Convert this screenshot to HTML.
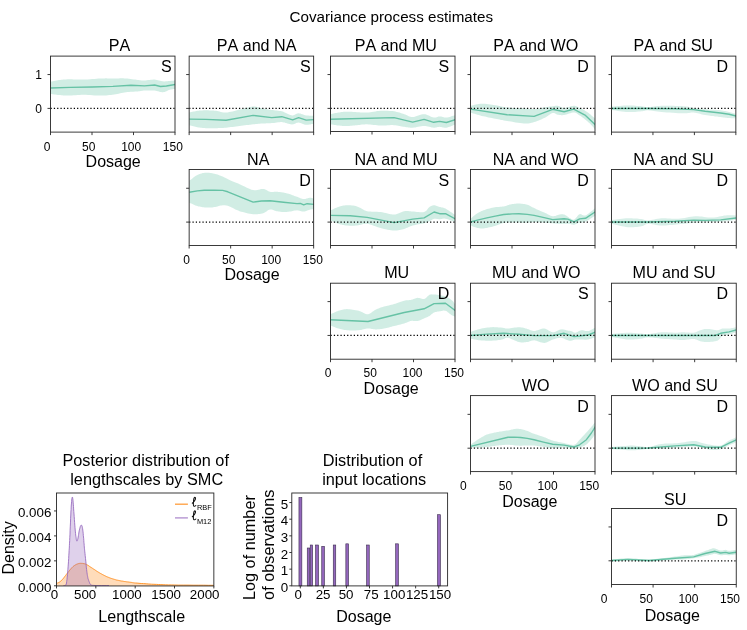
<!DOCTYPE html>
<html><head><meta charset="utf-8"><title>Covariance process estimates</title>
<style>html,body{margin:0;padding:0;background:#fff}svg{display:block;will-change:transform}text{font-family:"Liberation Sans",sans-serif;fill:#000;font-kerning:none}</style></head><body>
<svg width="747" height="630" viewBox="0 0 747 630">
<rect width="747" height="630" fill="#fff"/>
<text x="391.3" y="21.6" font-size="15.2" text-anchor="middle">Covariance process estimates</text>
<g><clipPath id="cp00"><rect x="50.5" y="56.1" width="124.5" height="76.0"/></clipPath>
<g clip-path="url(#cp00)">
<polygon points="50.5,81.6 51.7,81.4 52.9,81.2 54.2,81.0 55.4,80.7 56.6,80.5 57.8,80.3 59.0,80.1 60.1,80.0 61.2,79.8 62.2,79.7 63.1,79.6 64.0,79.5 64.9,79.4 66.0,79.4 67.2,79.3 68.6,79.3 70.1,79.3 71.8,79.3 73.7,79.4 75.6,79.5 77.6,79.6 79.7,79.6 81.7,79.6 83.7,79.6 85.8,79.5 87.9,79.4 90.1,79.2 92.3,79.0 94.5,78.9 96.6,78.7 98.6,78.5 100.6,78.4 102.5,78.4 104.3,78.4 106.0,78.3 107.7,78.4 109.3,78.4 110.9,78.4 112.5,78.4 114.1,78.4 115.7,78.4 117.2,78.4 118.6,78.4 120.1,78.3 121.6,78.3 123.0,78.3 124.4,78.4 125.9,78.4 127.4,78.6 129.0,78.7 130.6,78.9 132.1,79.2 133.7,79.4 135.1,79.6 136.5,79.8 137.7,80.0 138.8,80.1 139.7,80.2 140.5,80.3 141.2,80.4 141.9,80.4 142.7,80.4 143.5,80.5 144.5,80.5 145.6,80.4 146.8,80.3 148.1,80.1 149.4,80.0 150.8,79.8 152.1,79.7 153.4,79.6 154.6,79.6 155.7,79.7 156.8,79.9 157.9,80.2 159.0,80.4 160.0,80.7 161.1,81.0 162.1,81.2 163.0,81.3 163.9,81.4 164.8,81.4 165.7,81.3 166.5,81.3 167.4,81.2 168.2,81.1 169.0,81.0 169.8,81.0 170.5,80.9 171.3,80.8 172.0,80.8 172.8,80.7 173.5,80.7 174.2,80.6 174.9,80.5 175.7,80.5 175.7,88.9 174.9,89.0 174.2,89.1 173.5,89.1 172.8,89.2 172.0,89.3 171.3,89.4 170.5,89.5 169.8,89.7 169.0,90.0 168.2,90.3 167.4,90.7 166.5,91.2 165.7,91.6 164.8,91.9 163.9,92.1 163.0,92.3 162.1,92.2 161.1,92.1 160.0,91.9 159.0,91.6 157.9,91.3 156.8,91.0 155.7,90.7 154.6,90.6 153.4,90.5 152.1,90.4 150.8,90.4 149.4,90.4 148.1,90.4 146.8,90.5 145.6,90.5 144.5,90.6 143.5,90.6 142.7,90.7 141.9,90.8 141.2,90.9 140.5,91.1 139.7,91.2 138.8,91.3 137.7,91.4 136.5,91.5 135.1,91.6 133.7,91.7 132.1,91.8 130.6,91.8 129.0,92.0 127.4,92.1 125.9,92.3 124.4,92.5 123.0,92.7 121.6,93.0 120.1,93.3 118.6,93.7 117.2,93.9 115.7,94.2 114.1,94.5 112.5,94.7 110.9,94.9 109.3,95.1 107.7,95.2 106.0,95.4 104.3,95.5 102.5,95.6 100.6,95.6 98.6,95.6 96.6,95.5 94.5,95.4 92.3,95.2 90.1,95.1 87.9,94.9 85.8,94.8 83.7,94.8 81.7,94.8 79.7,94.9 77.6,95.0 75.6,95.2 73.7,95.3 71.8,95.5 70.1,95.6 68.6,95.6 67.2,95.6 66.0,95.6 64.9,95.6 64.0,95.5 63.1,95.4 62.2,95.3 61.2,95.2 60.1,95.1 59.0,95.0 57.8,94.9 56.6,94.7 55.4,94.6 54.2,94.4 52.9,94.3 51.7,94.1 50.5,94.0" fill="#66c2a5" fill-opacity="0.3"/>
<polyline points="50.5,88.0 70.2,87.4 92.2,87.0 112.9,86.4 131.0,85.3 144.5,85.9 154.6,85.0 160.5,86.5 166.4,86.0 175.7,84.3" fill="none" stroke="#66c2a5" stroke-width="1.4" stroke-linejoin="round"/>
<line x1="50.5" y1="108.4" x2="175.0" y2="108.4" stroke="#000" stroke-width="1.25" stroke-dasharray="1.25 2.07"/>
</g>
<rect x="50.5" y="56.1" width="124.50" height="76.00" fill="none" stroke="#262626" stroke-width="0.9"/>
<path d="M50.50,132.1v3.0M92.00,132.1v3.0M133.50,132.1v3.0M175.00,132.1v3.0M50.5,74.55h-3.0M50.5,108.40h-3.0" stroke="#262626" stroke-width="0.9" fill="none"/>
<text x="119.6" y="50.8" font-size="16.1" text-anchor="middle">PA</text>
<text x="171.7" y="72.1" font-size="16" text-anchor="end">S</text>
<text x="47.1" y="150.6" font-size="12" text-anchor="middle">0</text>
<text x="88.7" y="150.6" font-size="12" text-anchor="middle">50</text>
<text x="131.2" y="150.6" font-size="12" text-anchor="middle">100</text>
<text x="172.8" y="150.6" font-size="12" text-anchor="middle">150</text>
<text x="113.2" y="167.1" font-size="16" text-anchor="middle">Dosage</text>
<text x="42" y="79.0" font-size="12" text-anchor="end">1</text>
<text x="42" y="112.8" font-size="12" text-anchor="end">0</text>
</g>
<g><clipPath id="cp01"><rect x="189.15" y="56.1" width="124.5" height="76.0"/></clipPath>
<g clip-path="url(#cp01)">
<polygon points="189.3,112.5 190.3,112.3 191.4,112.1 192.4,111.8 193.4,111.6 194.4,111.4 195.4,111.2 196.4,111.0 197.4,110.8 198.5,110.7 199.5,110.6 200.5,110.5 201.5,110.4 202.6,110.4 203.6,110.3 204.7,110.3 205.9,110.3 207.1,110.3 208.3,110.3 209.5,110.4 210.8,110.4 212.1,110.5 213.4,110.6 214.7,110.7 216.0,110.8 217.2,111.0 218.4,111.3 219.6,111.6 220.8,111.9 222.1,112.2 223.3,112.4 224.7,112.5 226.1,112.5 227.6,112.4 229.2,112.1 230.9,111.8 232.6,111.4 234.4,110.9 236.1,110.5 237.9,110.0 239.6,109.6 241.3,109.2 243.1,108.8 244.8,108.3 246.6,107.8 248.3,107.4 250.0,107.0 251.6,106.7 253.1,106.6 254.5,106.6 255.9,106.8 257.2,107.0 258.5,107.3 259.7,107.7 260.9,108.0 262.1,108.4 263.2,108.6 264.3,108.8 265.4,109.0 266.4,109.2 267.4,109.3 268.4,109.5 269.5,109.7 270.5,109.8 271.7,110.0 272.9,110.1 274.1,110.3 275.5,110.4 276.8,110.6 278.1,110.7 279.4,110.9 280.7,111.1 281.8,111.3 282.8,111.6 283.8,112.0 284.7,112.4 285.5,112.8 286.3,113.2 287.1,113.6 287.8,113.9 288.5,114.2 289.2,114.4 289.7,114.7 290.2,114.9 290.7,115.1 291.1,115.2 291.6,115.3 292.1,115.4 292.7,115.4 293.4,115.2 294.1,115.0 294.8,114.7 295.5,114.3 296.2,114.0 297.0,113.6 297.8,113.4 298.6,113.3 299.5,113.4 300.4,113.6 301.3,113.9 302.3,114.2 303.2,114.5 304.2,114.9 305.2,115.2 306.2,115.4 307.2,115.5 308.3,115.6 309.3,115.7 310.4,115.7 311.5,115.8 312.5,115.8 313.6,115.8 314.7,115.9 314.7,123.5 313.6,123.7 312.5,123.9 311.5,124.1 310.4,124.4 309.3,124.6 308.3,124.7 307.2,124.8 306.2,124.8 305.2,124.7 304.2,124.4 303.2,124.1 302.3,123.7 301.3,123.3 300.4,123.0 299.5,122.7 298.6,122.6 297.8,122.7 297.0,122.8 296.2,123.1 295.5,123.4 294.8,123.7 294.1,124.0 293.4,124.2 292.7,124.3 292.1,124.4 291.6,124.4 291.1,124.3 290.7,124.3 290.2,124.2 289.7,124.1 289.2,123.9 288.5,123.8 287.8,123.6 287.1,123.4 286.3,123.1 285.5,122.9 284.7,122.6 283.8,122.4 282.8,122.2 281.8,122.1 280.7,122.1 279.4,122.2 278.1,122.3 276.8,122.5 275.5,122.7 274.1,122.9 272.9,123.0 271.7,123.1 270.5,123.2 269.5,123.3 268.4,123.3 267.4,123.3 266.4,123.3 265.4,123.4 264.3,123.4 263.2,123.5 262.1,123.5 260.9,123.6 259.7,123.7 258.5,123.8 257.2,123.9 255.9,124.0 254.5,124.2 253.1,124.3 251.6,124.5 250.0,124.7 248.3,124.9 246.6,125.1 244.8,125.3 243.1,125.6 241.3,125.8 239.6,126.0 237.9,126.2 236.1,126.4 234.4,126.7 232.6,126.9 230.9,127.1 229.2,127.3 227.6,127.5 226.1,127.7 224.7,127.8 223.3,127.9 222.1,128.0 220.8,128.0 219.6,128.1 218.4,128.1 217.2,128.2 216.0,128.2 214.7,128.2 213.4,128.3 212.1,128.3 210.8,128.3 209.5,128.3 208.3,128.3 207.1,128.2 205.9,128.2 204.7,128.1 203.6,128.0 202.6,127.9 201.5,127.8 200.5,127.7 199.5,127.5 198.5,127.4 197.4,127.2 196.4,127.0 195.4,126.7 194.4,126.5 193.4,126.2 192.4,126.0 191.4,125.7 190.3,125.4 189.3,125.2" fill="#66c2a5" fill-opacity="0.3"/>
<polyline points="189.3,119.1 205.9,119.4 226.1,120.3 253.1,115.4 271.7,117.6 281.8,116.7 292.7,119.8 298.6,117.7 306.2,120.1 314.7,119.6" fill="none" stroke="#66c2a5" stroke-width="1.4" stroke-linejoin="round"/>
<line x1="189.15" y1="108.4" x2="313.65" y2="108.4" stroke="#000" stroke-width="1.25" stroke-dasharray="1.25 2.07"/>
</g>
<rect x="189.15" y="56.1" width="124.50" height="76.00" fill="none" stroke="#262626" stroke-width="0.9"/>
<path d="M189.15,132.1v3.0M230.65,132.1v3.0M272.15,132.1v3.0M313.65,132.1v3.0M189.15,74.55h-3.0M189.15,108.40h-3.0" stroke="#262626" stroke-width="0.9" fill="none"/>
<text x="256.6" y="50.8" font-size="16.1" text-anchor="middle">PA and NA</text>
<text x="310.7" y="72.1" font-size="16" text-anchor="end">S</text>
</g>
<g><clipPath id="cp02"><rect x="330.5" y="56.1" width="124.5" height="76.0"/></clipPath>
<g clip-path="url(#cp02)">
<polygon points="330.5,114.2 331.5,114.0 332.5,113.8 333.5,113.5 334.4,113.3 335.4,113.1 336.4,112.9 337.4,112.7 338.4,112.5 339.5,112.4 340.5,112.2 341.5,112.1 342.5,111.9 343.6,111.8 344.6,111.8 345.7,111.7 346.9,111.7 348.1,111.7 349.3,111.7 350.5,111.8 351.8,111.8 353.1,111.9 354.4,112.0 355.7,112.1 357.0,112.2 358.2,112.2 359.4,112.3 360.6,112.4 361.8,112.5 363.1,112.5 364.3,112.6 365.7,112.6 367.1,112.5 368.6,112.4 370.2,112.2 371.9,111.9 373.6,111.7 375.4,111.4 377.1,111.1 378.9,110.9 380.6,110.8 382.3,110.8 384.1,110.7 385.8,110.7 387.6,110.8 389.3,110.9 391.0,111.0 392.6,111.1 394.1,111.3 395.5,111.6 396.9,111.9 398.2,112.2 399.5,112.6 400.7,113.0 401.9,113.4 403.1,113.8 404.2,114.2 405.3,114.6 406.4,115.0 407.4,115.5 408.3,116.0 409.3,116.4 410.4,116.7 411.5,117.0 412.7,117.1 414.0,116.9 415.3,116.6 416.8,116.1 418.3,115.6 419.8,115.1 421.3,114.6 422.8,114.3 424.1,114.2 425.4,114.3 426.7,114.7 428.0,115.2 429.3,115.8 430.5,116.4 431.6,116.9 432.7,117.3 433.7,117.6 434.6,117.6 435.5,117.5 436.2,117.4 436.9,117.1 437.5,116.9 438.2,116.6 438.9,116.5 439.6,116.4 440.4,116.4 441.2,116.6 442.0,116.8 442.8,117.1 443.6,117.3 444.5,117.5 445.4,117.6 446.4,117.6 447.4,117.4 448.5,117.2 449.7,116.9 450.9,116.5 452.1,116.1 453.3,115.8 454.5,115.4 455.7,115.0 455.7,124.3 454.5,124.8 453.3,125.3 452.1,125.8 450.9,126.3 449.7,126.7 448.5,127.1 447.4,127.5 446.4,127.7 445.4,127.8 444.5,127.7 443.6,127.6 442.8,127.4 442.0,127.2 441.2,127.0 440.4,126.9 439.6,126.8 438.9,126.9 438.2,127.0 437.5,127.1 436.9,127.3 436.2,127.5 435.5,127.6 434.6,127.7 433.7,127.7 432.7,127.6 431.6,127.4 430.5,127.1 429.3,126.8 428.0,126.5 426.7,126.2 425.4,126.1 424.1,126.0 422.8,126.1 421.3,126.2 419.8,126.5 418.3,126.8 416.8,127.1 415.3,127.4 414.0,127.6 412.7,127.7 411.5,127.7 410.4,127.7 409.3,127.6 408.3,127.5 407.4,127.3 406.4,127.2 405.3,127.0 404.2,126.8 403.1,126.7 401.9,126.4 400.7,126.2 399.5,125.9 398.2,125.7 396.9,125.5 395.5,125.3 394.1,125.2 392.6,125.1 391.0,125.1 389.3,125.2 387.6,125.3 385.8,125.4 384.1,125.5 382.3,125.5 380.6,125.5 378.9,125.4 377.1,125.3 375.4,125.1 373.6,124.9 371.9,124.7 370.2,124.5 368.6,124.4 367.1,124.3 365.7,124.3 364.3,124.4 363.1,124.5 361.8,124.6 360.6,124.8 359.4,124.9 358.2,125.0 357.0,125.2 355.7,125.3 354.4,125.4 353.1,125.5 351.8,125.7 350.5,125.8 349.3,125.9 348.1,126.0 346.9,126.0 345.7,126.0 344.6,126.0 343.6,125.9 342.5,125.9 341.5,125.8 340.5,125.7 339.5,125.6 338.4,125.5 337.4,125.4 336.4,125.2 335.4,125.1 334.4,124.9 333.5,124.8 332.5,124.6 331.5,124.5 330.5,124.3" fill="#66c2a5" fill-opacity="0.3"/>
<polyline points="330.5,119.3 394.1,117.6 412.7,122.1 424.1,119.4 433.7,122.3 439.6,121.4 446.4,122.5 455.7,119.6" fill="none" stroke="#66c2a5" stroke-width="1.4" stroke-linejoin="round"/>
<line x1="330.5" y1="108.4" x2="455.0" y2="108.4" stroke="#000" stroke-width="1.25" stroke-dasharray="1.25 2.07"/>
</g>
<rect x="330.5" y="56.1" width="124.50" height="75.40" fill="none" stroke="#262626" stroke-width="0.9"/>
<path d="M330.50,131.5v3.0M372.00,131.5v3.0M413.50,131.5v3.0M455.00,131.5v3.0M330.5,74.55h-3.0M330.5,108.40h-3.0" stroke="#262626" stroke-width="0.9" fill="none"/>
<text x="395.8" y="50.8" font-size="16.1" text-anchor="middle">PA and MU</text>
<text x="449.2" y="72.1" font-size="16" text-anchor="end">S</text>
</g>
<g><clipPath id="cp03"><rect x="470.5" y="56.1" width="124.5" height="76.0"/></clipPath>
<g clip-path="url(#cp03)">
<polygon points="470.5,105.8 471.9,105.5 473.3,105.2 474.6,104.8 476.0,104.5 477.4,104.2 478.8,104.0 480.3,103.8 481.8,103.7 483.4,103.8 485.1,103.8 486.8,104.0 488.5,104.2 490.3,104.5 492.0,104.7 493.7,105.0 495.3,105.3 496.8,105.5 498.3,105.8 499.6,106.1 501.0,106.4 502.4,106.7 503.8,107.0 505.4,107.2 507.1,107.4 509.0,107.6 511.1,107.8 513.4,107.9 515.6,108.0 517.9,108.0 520.1,108.1 522.2,108.2 524.0,108.3 525.6,108.4 527.0,108.6 528.3,108.7 529.5,108.9 530.6,109.0 531.7,109.1 532.9,109.1 534.1,109.1 535.4,109.0 536.7,108.9 538.0,108.7 539.3,108.4 540.5,108.2 541.8,107.9 543.0,107.6 544.2,107.4 545.4,107.3 546.5,107.1 547.7,106.9 548.7,106.8 549.8,106.6 550.8,106.5 551.8,106.4 552.7,106.3 553.4,106.2 554.1,106.0 554.7,105.9 555.3,105.8 555.9,105.7 556.4,105.7 557.0,105.7 557.7,105.8 558.4,105.9 559.1,106.2 559.9,106.6 560.6,107.0 561.4,107.3 562.3,107.6 563.2,107.9 564.1,108.0 565.2,107.9 566.4,107.6 567.7,107.3 569.0,106.9 570.3,106.5 571.5,106.1 572.7,105.9 573.7,105.8 574.7,105.8 575.5,106.0 576.2,106.2 576.9,106.5 577.6,106.9 578.2,107.2 578.9,107.6 579.6,108.0 580.4,108.3 581.1,108.6 581.9,109.0 582.6,109.3 583.3,109.7 584.1,110.1 584.8,110.5 585.5,111.0 586.3,111.5 587.1,112.0 587.8,112.6 588.6,113.1 589.4,113.7 590.1,114.3 590.8,114.8 591.4,115.4 592.1,115.9 592.6,116.4 593.2,116.9 593.7,117.3 594.2,117.8 594.6,118.3 595.1,118.8 595.7,119.3 595.7,130.2 595.1,129.6 594.6,129.0 594.2,128.3 593.7,127.7 593.2,127.1 592.6,126.4 592.1,125.8 591.4,125.2 590.8,124.5 590.1,123.8 589.4,123.1 588.6,122.4 587.8,121.7 587.1,121.0 586.3,120.4 585.5,119.8 584.8,119.2 584.1,118.6 583.3,118.0 582.6,117.4 581.9,116.9 581.1,116.3 580.4,115.8 579.6,115.4 578.9,114.9 578.2,114.4 577.6,113.9 576.9,113.5 576.2,113.1 575.5,112.8 574.7,112.6 573.7,112.5 572.7,112.6 571.5,112.8 570.3,113.2 569.0,113.6 567.7,114.1 566.4,114.5 565.2,114.8 564.1,115.0 563.2,115.1 562.3,115.2 561.4,115.2 560.6,115.1 559.9,115.1 559.1,114.9 558.4,114.8 557.7,114.7 557.0,114.5 556.4,114.2 555.9,113.9 555.3,113.5 554.7,113.2 554.1,113.0 553.4,112.9 552.7,113.0 551.8,113.3 550.8,113.8 549.8,114.5 548.7,115.2 547.7,116.0 546.5,116.7 545.4,117.4 544.2,118.1 543.0,118.6 541.8,119.2 540.5,119.8 539.3,120.3 538.0,120.8 536.7,121.3 535.4,121.8 534.1,122.1 532.9,122.4 531.7,122.7 530.6,123.0 529.5,123.2 528.3,123.4 527.0,123.5 525.6,123.5 524.0,123.5 522.2,123.3 520.1,123.1 517.9,122.8 515.6,122.4 513.4,122.0 511.1,121.6 509.0,121.3 507.1,120.9 505.4,120.7 503.8,120.4 502.4,120.1 501.0,119.9 499.6,119.6 498.3,119.3 496.8,119.1 495.3,118.7 493.7,118.4 492.0,118.1 490.3,117.7 488.5,117.4 486.8,117.0 485.1,116.6 483.4,116.3 481.8,115.9 480.3,115.5 478.8,115.1 477.4,114.7 476.0,114.2 474.6,113.8 473.3,113.4 471.9,112.9 470.5,112.5" fill="#66c2a5" fill-opacity="0.3"/>
<polyline points="470.5,109.1 507.1,114.7 534.1,116.4 552.7,109.3 564.1,111.7 573.7,109.1 585.5,115.4 595.7,125.2" fill="none" stroke="#66c2a5" stroke-width="1.4" stroke-linejoin="round"/>
<line x1="470.5" y1="108.4" x2="595.0" y2="108.4" stroke="#000" stroke-width="1.25" stroke-dasharray="1.25 2.07"/>
</g>
<rect x="470.5" y="56.1" width="124.50" height="76.00" fill="none" stroke="#262626" stroke-width="0.9"/>
<path d="M470.50,132.1v3.0M512.00,132.1v3.0M553.50,132.1v3.0M595.00,132.1v3.0M470.5,74.55h-3.0M470.5,108.40h-3.0" stroke="#262626" stroke-width="0.9" fill="none"/>
<text x="535.7" y="50.8" font-size="16.1" text-anchor="middle">PA and WO</text>
<text x="588.7" y="72.1" font-size="16" text-anchor="end">D</text>
</g>
<g><clipPath id="cp04"><rect x="611.5" y="56.1" width="124.5" height="76.0"/></clipPath>
<g clip-path="url(#cp04)">
<polygon points="611.5,106.6 613.6,106.4 615.7,106.3 617.8,106.1 619.9,105.9 621.9,105.7 624.0,105.6 626.0,105.5 627.9,105.4 629.7,105.4 631.6,105.5 633.4,105.6 635.2,105.7 636.9,105.9 638.5,106.0 640.0,106.1 641.4,106.3 642.5,106.4 643.4,106.5 644.1,106.7 644.7,106.8 645.4,107.0 646.1,107.1 647.0,107.1 648.1,107.1 649.4,107.0 650.8,106.9 652.3,106.7 653.9,106.5 655.6,106.2 657.5,106.0 659.5,105.9 661.6,105.8 664.0,105.7 666.8,105.7 669.7,105.8 672.8,105.8 675.8,105.9 678.7,106.0 681.3,106.1 683.5,106.3 685.4,106.4 686.9,106.6 688.1,106.8 689.2,107.1 690.3,107.3 691.3,107.5 692.4,107.8 693.7,108.0 695.0,108.1 696.3,108.3 697.7,108.4 699.0,108.6 700.5,108.7 701.9,108.8 703.5,109.0 705.1,109.1 706.9,109.3 708.9,109.4 711.0,109.6 713.1,109.7 715.2,109.8 717.2,110.0 719.0,110.1 720.6,110.3 722.0,110.5 723.3,110.7 724.4,110.9 725.4,111.1 726.3,111.3 727.2,111.5 728.1,111.8 729.1,112.0 730.1,112.2 731.0,112.5 732.0,112.8 732.9,113.1 733.9,113.3 734.8,113.6 735.7,113.9 736.7,114.2 736.7,118.4 735.7,118.4 734.8,118.3 733.9,118.3 732.9,118.3 732.0,118.2 731.0,118.2 730.1,118.1 729.1,118.1 728.1,118.0 727.2,117.9 726.3,117.8 725.4,117.7 724.4,117.5 723.3,117.4 722.0,117.2 720.6,117.1 719.0,116.9 717.2,116.6 715.2,116.4 713.1,116.1 711.0,115.9 708.9,115.6 706.9,115.3 705.1,115.0 703.5,114.7 701.9,114.4 700.5,114.0 699.0,113.6 697.7,113.2 696.3,112.9 695.0,112.7 693.7,112.5 692.4,112.5 691.3,112.5 690.3,112.7 689.2,112.9 688.1,113.0 686.9,113.2 685.4,113.3 683.5,113.3 681.3,113.3 678.7,113.2 675.8,113.0 672.8,112.8 669.7,112.6 666.8,112.4 664.0,112.2 661.6,112.0 659.5,111.8 657.5,111.5 655.6,111.3 653.9,111.0 652.3,110.8 650.8,110.6 649.4,110.4 648.1,110.3 647.0,110.3 646.1,110.4 645.4,110.5 644.7,110.7 644.1,110.9 643.4,111.0 642.5,111.2 641.4,111.3 640.0,111.4 638.5,111.6 636.9,111.7 635.2,111.9 633.4,112.0 631.6,112.0 629.7,112.0 627.9,112.0 626.0,111.9 624.0,111.7 621.9,111.4 619.9,111.2 617.8,110.9 615.7,110.5 613.6,110.2 611.5,110.0" fill="#66c2a5" fill-opacity="0.26"/>
<polyline points="611.5,108.5 648.1,108.5 675.1,108.8 693.7,109.6 705.1,111.3 720.6,113.0 729.1,114.2 736.7,116.2" fill="none" stroke="#66c2a5" stroke-width="1.4" stroke-linejoin="round"/>
<line x1="611.5" y1="108.4" x2="735.85" y2="108.4" stroke="#000" stroke-width="1.25" stroke-dasharray="1.25 2.07"/>
</g>
<rect x="611.5" y="56.1" width="124.35" height="76.00" fill="none" stroke="#262626" stroke-width="0.9"/>
<path d="M611.50,132.1v3.0M652.95,132.1v3.0M694.40,132.1v3.0M735.85,132.1v3.0M611.5,74.55h-3.0M611.5,108.40h-3.0" stroke="#262626" stroke-width="0.9" fill="none"/>
<text x="673.2" y="50.8" font-size="16.1" text-anchor="middle">PA and SU</text>
<text x="728.1" y="72.1" font-size="16" text-anchor="end">D</text>
</g>
<g><clipPath id="cp11"><rect x="189.15" y="169.5" width="124.5" height="76.0"/></clipPath>
<g clip-path="url(#cp11)">
<polygon points="189.3,180.8 190.3,180.0 191.4,179.2 192.4,178.4 193.4,177.6 194.4,176.8 195.4,176.1 196.4,175.5 197.4,174.9 198.5,174.4 199.5,174.0 200.6,173.7 201.6,173.4 202.7,173.1 203.8,172.9 204.8,172.8 205.9,172.7 206.9,172.7 208.0,172.7 209.0,172.8 210.1,172.9 211.1,173.1 212.2,173.3 213.2,173.5 214.3,173.7 215.4,174.0 216.4,174.3 217.5,174.6 218.6,175.0 219.7,175.4 220.7,175.8 221.8,176.2 222.7,176.6 223.6,177.0 224.5,177.4 225.2,177.8 226.0,178.2 226.8,178.6 227.6,179.0 228.5,179.5 229.5,180.0 230.6,180.4 231.7,180.9 232.9,181.4 234.1,181.9 235.4,182.4 236.8,183.0 238.2,183.6 239.6,184.2 241.2,184.9 242.8,185.7 244.6,186.6 246.3,187.5 248.1,188.3 249.9,189.1 251.5,189.7 253.1,190.1 254.5,190.2 255.9,190.2 257.3,190.0 258.6,189.7 259.8,189.4 261.0,189.1 262.1,188.9 263.2,188.9 264.2,189.1 265.1,189.4 266.0,189.8 266.8,190.3 267.6,190.7 268.4,191.2 269.1,191.5 270.0,191.8 270.8,191.9 271.7,192.0 272.5,191.9 273.3,191.9 274.2,191.8 275.0,191.8 275.9,191.8 276.7,191.8 277.6,191.8 278.4,191.9 279.2,192.0 280.1,192.1 280.9,192.2 281.8,192.3 282.6,192.5 283.5,192.6 284.3,192.8 285.1,193.0 286.0,193.1 286.8,193.4 287.7,193.6 288.5,193.8 289.4,194.0 290.2,194.3 291.0,194.6 291.9,194.9 292.7,195.2 293.6,195.5 294.4,195.9 295.3,196.2 296.1,196.5 297.0,196.8 297.8,197.1 298.6,197.5 299.5,197.8 300.3,198.2 301.2,198.5 302.0,198.7 302.9,198.9 303.7,199.0 304.6,199.0 305.4,198.9 306.3,198.6 307.2,198.4 308.1,198.1 308.9,197.9 309.7,197.7 310.4,197.7 311.1,197.7 311.7,197.9 312.2,198.1 312.7,198.3 313.2,198.6 313.7,198.9 314.2,199.1 314.7,199.4 314.7,209.1 314.2,209.2 313.7,209.2 313.2,209.2 312.7,209.2 312.2,209.2 311.7,209.3 311.1,209.4 310.4,209.5 309.7,209.7 308.9,209.9 308.1,210.3 307.2,210.6 306.3,210.9 305.4,211.2 304.6,211.4 303.7,211.5 302.9,211.5 302.0,211.4 301.2,211.2 300.3,211.0 299.5,210.7 298.6,210.5 297.8,210.4 297.0,210.3 296.1,210.4 295.3,210.5 294.4,210.6 293.6,210.8 292.7,211.0 291.9,211.2 291.0,211.4 290.2,211.5 289.4,211.6 288.5,211.7 287.7,211.8 286.8,211.9 286.0,212.0 285.1,212.0 284.3,212.0 283.5,212.0 282.6,212.0 281.8,211.9 280.9,211.8 280.1,211.7 279.2,211.6 278.4,211.5 277.6,211.3 276.7,211.2 275.9,211.0 275.0,210.7 274.2,210.4 273.3,210.0 272.5,209.8 271.7,209.5 270.8,209.4 270.0,209.5 269.1,209.7 268.4,210.1 267.6,210.6 266.8,211.2 266.0,211.8 265.1,212.3 264.2,212.8 263.2,213.2 262.1,213.5 261.0,213.7 259.8,213.9 258.6,214.1 257.3,214.2 255.9,214.3 254.5,214.3 253.1,214.2 251.5,214.0 249.9,213.8 248.1,213.4 246.3,213.0 244.6,212.6 242.8,212.1 241.2,211.7 239.6,211.2 238.2,210.6 236.8,210.0 235.4,209.4 234.1,208.7 232.9,208.0 231.7,207.4 230.6,206.9 229.5,206.4 228.5,206.1 227.6,205.8 226.8,205.6 226.0,205.4 225.2,205.3 224.5,205.3 223.6,205.2 222.7,205.3 221.8,205.4 220.7,205.6 219.7,205.8 218.6,206.1 217.5,206.4 216.4,206.7 215.4,206.9 214.3,207.1 213.2,207.2 212.2,207.4 211.1,207.4 210.1,207.5 209.0,207.5 208.0,207.5 206.9,207.5 205.9,207.5 204.8,207.4 203.8,207.3 202.7,207.2 201.6,207.0 200.6,206.8 199.5,206.6 198.5,206.4 197.4,206.1 196.4,205.8 195.4,205.4 194.4,205.0 193.4,204.5 192.4,204.1 191.4,203.6 190.3,203.2 189.3,202.7" fill="#66c2a5" fill-opacity="0.3"/>
<polyline points="189.3,192.3 197.4,190.9 204.2,190.3 214.3,190.3 222.7,190.4 227.8,191.8 253.1,202.1 261.5,201.0 270.0,200.7 283.5,202.2 297.0,203.6 300.3,203.4 303.7,204.9 307.1,203.7 314.7,204.4" fill="none" stroke="#66c2a5" stroke-width="1.4" stroke-linejoin="round"/>
<line x1="189.15" y1="222.1" x2="313.65" y2="222.1" stroke="#000" stroke-width="1.25" stroke-dasharray="1.25 2.07"/>
</g>
<rect x="189.15" y="169.5" width="124.50" height="76.00" fill="none" stroke="#262626" stroke-width="0.9"/>
<path d="M189.15,245.5v3.0M230.65,245.5v3.0M272.15,245.5v3.0M313.65,245.5v3.0M189.15,188.25h-3.0M189.15,222.10h-3.0" stroke="#262626" stroke-width="0.9" fill="none"/>
<text x="258.3" y="164.8" font-size="16.1" text-anchor="middle">NA</text>
<text x="310.7" y="185.8" font-size="16" text-anchor="end">D</text>
<text x="186.7" y="264.0" font-size="12" text-anchor="middle">0</text>
<text x="228.7" y="264.0" font-size="12" text-anchor="middle">50</text>
<text x="271.2" y="264.0" font-size="12" text-anchor="middle">100</text>
<text x="312.8" y="264.0" font-size="12" text-anchor="middle">150</text>
<text x="252.1" y="280.1" font-size="16" text-anchor="middle">Dosage</text>
</g>
<g><clipPath id="cp12"><rect x="330.5" y="169.5" width="124.5" height="76.0"/></clipPath>
<g clip-path="url(#cp12)">
<polygon points="330.5,210.3 331.5,209.9 332.5,209.4 333.5,209.0 334.4,208.5 335.4,208.1 336.4,207.7 337.4,207.3 338.4,207.0 339.5,206.6 340.5,206.3 341.5,206.1 342.5,205.8 343.6,205.6 344.6,205.4 345.7,205.3 346.9,205.3 348.1,205.3 349.3,205.3 350.5,205.3 351.8,205.5 353.1,205.6 354.4,205.8 355.7,206.1 357.0,206.4 358.2,206.9 359.4,207.5 360.6,208.1 361.8,208.8 363.1,209.5 364.3,210.2 365.7,210.7 367.1,211.2 368.6,211.4 370.2,211.6 371.9,211.7 373.6,211.7 375.4,211.7 377.1,211.8 378.9,211.9 380.6,212.0 382.3,212.3 384.1,212.7 385.8,213.1 387.6,213.5 389.3,214.0 391.0,214.3 392.6,214.5 394.1,214.5 395.5,214.4 396.9,214.0 398.2,213.5 399.5,213.0 400.7,212.4 401.9,211.9 403.1,211.5 404.2,211.2 405.3,211.0 406.4,211.0 407.4,211.0 408.3,211.1 409.3,211.2 410.4,211.3 411.5,211.4 412.7,211.5 414.0,211.6 415.4,211.8 417.0,211.9 418.6,212.1 420.1,212.2 421.6,212.3 423.0,212.2 424.1,212.0 425.1,211.6 425.9,211.1 426.6,210.4 427.3,209.6 427.8,208.8 428.4,208.1 428.9,207.5 429.5,207.0 430.1,206.6 430.7,206.2 431.2,205.9 431.8,205.7 432.3,205.5 432.9,205.4 433.5,205.3 434.1,205.3 434.7,205.3 435.4,205.4 436.1,205.7 436.8,205.9 437.5,206.2 438.2,206.5 438.9,206.7 439.6,207.0 440.3,207.1 441.0,207.3 441.6,207.4 442.3,207.5 443.0,207.6 443.8,207.9 444.6,208.2 445.5,208.6 446.6,209.2 447.8,210.0 449.0,210.8 450.3,211.7 451.7,212.6 453.0,213.6 454.4,214.5 455.7,215.4 455.7,222.1 454.4,221.7 453.0,221.2 451.7,220.7 450.3,220.2 449.0,219.7 447.8,219.3 446.6,219.0 445.5,218.8 444.6,218.6 443.8,218.6 443.0,218.7 442.3,218.8 441.6,219.0 441.0,219.1 440.3,219.2 439.6,219.3 438.9,219.2 438.2,219.1 437.5,219.0 436.8,218.9 436.1,218.8 435.4,218.7 434.7,218.7 434.1,218.8 433.5,218.9 432.9,219.2 432.3,219.5 431.8,219.9 431.2,220.2 430.7,220.6 430.1,221.0 429.5,221.3 428.9,221.6 428.4,221.8 427.8,222.1 427.3,222.3 426.6,222.6 425.9,222.8 425.1,223.1 424.1,223.3 423.0,223.6 421.6,223.8 420.1,224.1 418.6,224.3 417.0,224.6 415.4,224.9 414.0,225.2 412.7,225.5 411.5,225.9 410.4,226.3 409.3,226.8 408.3,227.2 407.4,227.7 406.4,228.1 405.3,228.5 404.2,228.9 403.1,229.2 401.9,229.5 400.7,229.8 399.5,230.1 398.2,230.3 396.9,230.5 395.5,230.6 394.1,230.6 392.6,230.5 391.0,230.3 389.3,230.0 387.6,229.7 385.8,229.3 384.1,228.9 382.3,228.5 380.6,228.0 378.9,227.5 377.1,227.0 375.4,226.3 373.6,225.7 371.9,225.0 370.2,224.5 368.6,224.1 367.1,223.8 365.7,223.8 364.3,223.9 363.1,224.1 361.8,224.4 360.6,224.7 359.4,225.1 358.2,225.3 357.0,225.5 355.7,225.6 354.4,225.7 353.1,225.7 351.8,225.7 350.5,225.7 349.3,225.7 348.1,225.6 346.9,225.5 345.7,225.4 344.6,225.2 343.6,225.1 342.5,224.9 341.5,224.6 340.5,224.4 339.5,224.1 338.4,223.8 337.4,223.5 336.4,223.1 335.4,222.7 334.4,222.2 333.5,221.8 332.5,221.3 331.5,220.9 330.5,220.4" fill="#66c2a5" fill-opacity="0.3"/>
<polyline points="330.5,215.4 350.2,215.7 367.1,217.4 394.1,222.6 412.7,219.1 424.1,217.9 434.1,212.0 439.6,213.7 445.5,213.7 455.7,219.1" fill="none" stroke="#66c2a5" stroke-width="1.4" stroke-linejoin="round"/>
<line x1="330.5" y1="222.1" x2="455.0" y2="222.1" stroke="#000" stroke-width="1.25" stroke-dasharray="1.25 2.07"/>
</g>
<rect x="330.5" y="169.5" width="124.50" height="76.00" fill="none" stroke="#262626" stroke-width="0.9"/>
<path d="M330.50,245.5v3.0M372.00,245.5v3.0M413.50,245.5v3.0M455.00,245.5v3.0M330.5,188.25h-3.0M330.5,222.10h-3.0" stroke="#262626" stroke-width="0.9" fill="none"/>
<text x="396.0" y="164.8" font-size="16.1" text-anchor="middle">NA and MU</text>
<text x="449.2" y="185.8" font-size="16" text-anchor="end">S</text>
</g>
<g><clipPath id="cp13"><rect x="470.5" y="169.5" width="124.5" height="76.0"/></clipPath>
<g clip-path="url(#cp13)">
<polygon points="470.5,218.8 471.3,218.1 472.1,217.5 472.8,216.8 473.6,216.1 474.4,215.5 475.2,214.8 475.9,214.3 476.7,213.7 477.5,213.2 478.3,212.7 479.1,212.3 479.9,211.9 480.7,211.5 481.6,211.1 482.5,210.7 483.5,210.3 484.6,209.9 485.8,209.5 487.0,209.1 488.3,208.7 489.7,208.4 491.0,208.0 492.3,207.7 493.6,207.5 494.9,207.2 496.2,207.1 497.6,207.0 498.9,206.9 500.2,206.8 501.4,206.7 502.6,206.6 503.7,206.4 504.7,206.2 505.6,206.0 506.4,205.7 507.2,205.4 508.0,205.1 508.8,204.9 509.6,204.6 510.5,204.4 511.5,204.2 512.5,204.1 513.5,203.9 514.6,203.8 515.7,203.7 516.8,203.6 517.8,203.6 518.9,203.6 520.0,203.6 521.1,203.7 522.2,203.8 523.2,203.9 524.3,204.1 525.4,204.3 526.4,204.5 527.3,204.8 528.3,205.1 529.1,205.4 529.9,205.8 530.6,206.2 531.4,206.7 532.2,207.2 533.1,207.6 534.1,208.1 535.2,208.6 536.4,209.2 537.7,209.7 539.1,210.3 540.4,210.9 541.7,211.4 543.0,212.0 544.2,212.5 545.4,213.1 546.5,213.6 547.6,214.2 548.6,214.8 549.7,215.3 550.7,215.7 551.7,216.0 552.7,216.2 553.6,216.3 554.5,216.1 555.4,215.9 556.3,215.6 557.1,215.3 557.9,215.0 558.7,214.7 559.4,214.5 560.1,214.4 560.7,214.3 561.3,214.3 561.8,214.2 562.4,214.2 562.9,214.3 563.5,214.4 564.1,214.5 564.8,214.8 565.4,215.2 566.1,215.6 566.8,216.1 567.5,216.6 568.2,217.1 568.9,217.6 569.5,217.9 570.1,218.3 570.7,218.6 571.2,219.0 571.8,219.3 572.3,219.6 572.9,219.7 573.5,219.7 574.1,219.6 574.7,219.2 575.4,218.6 576.1,217.8 576.8,216.9 577.5,216.1 578.2,215.3 578.9,214.6 579.6,214.2 580.3,214.1 581.0,214.2 581.6,214.6 582.3,214.9 583.0,215.3 583.8,215.6 584.6,215.6 585.5,215.4 586.6,214.9 587.8,214.1 589.0,213.2 590.3,212.1 591.7,211.0 593.0,209.9 594.4,208.8 595.7,207.8 595.7,215.4 594.4,216.2 593.0,217.1 591.7,218.0 590.3,218.8 589.0,219.7 587.8,220.4 586.6,221.1 585.5,221.6 584.6,222.0 583.8,222.2 583.0,222.3 582.3,222.4 581.6,222.4 581.0,222.4 580.3,222.5 579.6,222.6 578.9,222.9 578.2,223.1 577.5,223.4 576.8,223.8 576.1,224.1 575.4,224.3 574.7,224.5 574.1,224.7 573.5,224.7 572.9,224.6 572.3,224.5 571.8,224.4 571.2,224.2 570.7,224.0 570.1,223.9 569.5,223.8 568.9,223.8 568.2,223.8 567.5,223.8 566.8,223.8 566.1,223.8 565.4,223.8 564.8,223.8 564.1,223.8 563.5,223.8 562.9,223.8 562.4,223.8 561.8,223.9 561.3,223.9 560.7,223.9 560.1,223.8 559.4,223.8 558.7,223.8 557.9,223.7 557.1,223.7 556.3,223.6 555.4,223.5 554.5,223.5 553.6,223.4 552.7,223.3 551.7,223.2 550.7,223.2 549.7,223.1 548.6,223.0 547.6,222.9 546.5,222.8 545.4,222.7 544.2,222.6 543.0,222.6 541.7,222.5 540.4,222.4 539.1,222.3 537.7,222.2 536.4,222.2 535.2,222.1 534.1,222.1 533.1,222.2 532.2,222.2 531.4,222.3 530.6,222.4 529.9,222.4 529.1,222.5 528.3,222.6 527.3,222.6 526.4,222.7 525.4,222.7 524.3,222.7 523.2,222.7 522.2,222.7 521.1,222.7 520.0,222.6 518.9,222.6 517.8,222.6 516.8,222.6 515.7,222.6 514.6,222.6 513.5,222.6 512.5,222.6 511.5,222.6 510.5,222.6 509.6,222.6 508.8,222.6 508.0,222.6 507.2,222.6 506.4,222.6 505.6,222.7 504.7,222.8 503.7,223.0 502.6,223.3 501.4,223.6 500.2,224.1 498.9,224.6 497.6,225.0 496.2,225.5 494.9,226.0 493.6,226.3 492.3,226.7 491.0,227.0 489.7,227.3 488.3,227.6 487.0,227.9 485.8,228.1 484.6,228.3 483.5,228.4 482.5,228.4 481.6,228.4 480.7,228.4 479.9,228.3 479.1,228.2 478.3,228.0 477.5,227.9 476.7,227.7 475.9,227.5 475.2,227.3 474.4,227.0 473.6,226.7 472.8,226.4 472.1,226.1 471.3,225.8 470.5,225.5" fill="#66c2a5" fill-opacity="0.3"/>
<polyline points="470.5,222.0 478.4,219.9 486.9,217.9 495.3,216.1 503.7,214.5 512.2,213.9 518.9,213.7 527.3,214.4 534.1,215.4 544.2,217.6 552.7,219.6 564.1,218.8 567.8,219.1 574.1,221.8 579.6,218.9 585.5,218.3 595.7,211.5" fill="none" stroke="#66c2a5" stroke-width="1.4" stroke-linejoin="round"/>
<line x1="470.5" y1="222.1" x2="595.0" y2="222.1" stroke="#000" stroke-width="1.25" stroke-dasharray="1.25 2.07"/>
</g>
<rect x="470.5" y="169.5" width="124.50" height="76.00" fill="none" stroke="#262626" stroke-width="0.9"/>
<path d="M470.50,245.5v3.0M512.00,245.5v3.0M553.50,245.5v3.0M595.00,245.5v3.0M470.5,188.25h-3.0M470.5,222.10h-3.0" stroke="#262626" stroke-width="0.9" fill="none"/>
<text x="535.7" y="164.8" font-size="16.1" text-anchor="middle">NA and WO</text>
<text x="588.7" y="185.8" font-size="16" text-anchor="end">D</text>
</g>
<g><clipPath id="cp14"><rect x="611.5" y="169.5" width="124.5" height="76.0"/></clipPath>
<g clip-path="url(#cp14)">
<polygon points="611.5,219.9 613.6,219.7 615.7,219.5 617.8,219.2 619.9,218.9 621.9,218.7 624.0,218.5 626.0,218.3 627.9,218.3 629.7,218.2 631.6,218.3 633.4,218.4 635.2,218.5 636.9,218.6 638.5,218.8 640.0,218.9 641.4,219.1 642.5,219.3 643.4,219.5 644.1,219.7 644.7,220.0 645.4,220.2 646.1,220.3 647.0,220.4 648.1,220.4 649.4,220.3 650.9,220.1 652.5,219.8 654.2,219.4 656.0,219.0 657.8,218.7 659.7,218.4 661.6,218.3 663.5,218.2 665.6,218.3 667.7,218.4 669.8,218.5 672.0,218.7 674.2,218.8 676.3,218.8 678.5,218.8 680.6,218.6 682.7,218.2 684.8,217.9 686.9,217.4 689.0,217.0 691.1,216.7 693.2,216.4 695.3,216.2 697.5,216.2 699.6,216.4 701.8,216.6 704.0,216.9 706.1,217.2 708.2,217.4 710.3,217.6 712.2,217.6 714.1,217.5 715.9,217.2 717.6,216.9 719.3,216.6 721.0,216.2 722.6,215.9 724.2,215.6 725.7,215.4 727.2,215.3 728.6,215.2 730.0,215.2 731.3,215.2 732.7,215.3 734.0,215.3 735.3,215.4 736.7,215.4 736.7,219.6 735.3,219.8 734.0,220.0 732.7,220.3 731.3,220.5 730.0,220.7 728.6,220.9 727.2,221.1 725.7,221.3 724.2,221.4 722.6,221.6 721.0,221.7 719.3,221.8 717.6,221.9 715.9,222.0 714.1,222.0 712.2,222.1 710.3,222.2 708.2,222.3 706.1,222.3 704.0,222.3 701.8,222.4 699.6,222.4 697.5,222.5 695.3,222.6 693.2,222.8 691.1,223.0 689.0,223.2 686.9,223.4 684.8,223.7 682.7,223.9 680.6,224.1 678.5,224.3 676.3,224.5 674.2,224.7 672.0,224.9 669.8,225.1 667.7,225.3 665.6,225.4 663.5,225.5 661.6,225.5 659.7,225.4 657.8,225.2 656.0,224.9 654.2,224.6 652.5,224.3 650.9,224.0 649.4,223.8 648.1,223.8 647.0,223.9 646.1,224.2 645.4,224.5 644.7,224.9 644.1,225.3 643.4,225.7 642.5,226.1 641.4,226.3 640.0,226.6 638.5,226.8 636.9,227.0 635.2,227.1 633.4,227.3 631.6,227.3 629.7,227.3 627.9,227.2 626.0,227.0 624.0,226.6 621.9,226.2 619.9,225.8 617.8,225.3 615.7,224.8 613.6,224.3 611.5,223.8" fill="#66c2a5" fill-opacity="0.26"/>
<polyline points="611.5,222.0 648.1,222.0 675.1,221.3 693.7,220.1 705.1,220.4 720.6,219.9 736.7,217.9" fill="none" stroke="#66c2a5" stroke-width="1.4" stroke-linejoin="round"/>
<line x1="611.5" y1="222.1" x2="736.25" y2="222.1" stroke="#000" stroke-width="1.25" stroke-dasharray="1.25 2.07"/>
</g>
<rect x="611.5" y="169.5" width="124.75" height="76.00" fill="none" stroke="#262626" stroke-width="0.9"/>
<path d="M611.50,245.5v3.0M653.08,245.5v3.0M694.67,245.5v3.0M736.25,245.5v3.0M611.5,188.25h-3.0M611.5,222.10h-3.0" stroke="#262626" stroke-width="0.9" fill="none"/>
<text x="673.5" y="164.8" font-size="16.1" text-anchor="middle">NA and SU</text>
<text x="728.1" y="185.8" font-size="16" text-anchor="end">D</text>
</g>
<g><clipPath id="cp22"><rect x="330.5" y="283.2" width="124.5" height="76.0"/></clipPath>
<g clip-path="url(#cp22)">
<polygon points="330.5,314.2 331.5,313.8 332.5,313.3 333.5,312.9 334.4,312.4 335.4,312.0 336.4,311.6 337.4,311.2 338.4,310.8 339.4,310.5 340.4,310.2 341.4,309.9 342.4,309.7 343.4,309.5 344.5,309.3 345.6,309.2 346.9,309.1 348.2,309.2 349.6,309.3 351.2,309.5 352.7,309.7 354.3,309.9 355.8,310.2 357.3,310.5 358.7,310.8 360.0,311.2 361.2,311.7 362.4,312.3 363.6,312.9 364.7,313.4 365.8,313.9 366.9,314.2 368.0,314.2 369.0,314.0 369.9,313.6 370.9,313.0 371.8,312.3 372.7,311.6 373.6,310.9 374.6,310.2 375.5,309.7 376.5,309.2 377.6,308.8 378.6,308.4 379.6,308.0 380.7,307.6 381.7,307.3 382.8,307.0 384.0,306.6 385.2,306.3 386.4,306.0 387.6,305.7 388.9,305.4 390.2,305.1 391.5,304.8 392.8,304.4 394.1,304.1 395.4,303.7 396.7,303.2 398.0,302.8 399.4,302.3 400.7,301.8 401.9,301.4 403.1,301.0 404.2,300.7 405.2,300.5 406.1,300.3 407.0,300.3 407.8,300.2 408.6,300.2 409.4,300.1 410.1,300.0 411.0,299.9 411.8,299.6 412.7,299.4 413.5,299.1 414.4,298.7 415.2,298.4 416.0,298.2 416.9,298.0 417.7,297.8 418.5,297.9 419.4,298.0 420.2,298.3 421.0,298.6 421.8,298.8 422.6,299.0 423.4,299.1 424.1,299.0 424.8,298.7 425.6,298.3 426.3,297.7 426.9,297.0 427.6,296.3 428.3,295.7 428.9,295.2 429.5,294.8 430.1,294.6 430.7,294.4 431.2,294.4 431.8,294.3 432.3,294.4 432.9,294.4 433.5,294.4 434.1,294.5 434.7,294.5 435.4,294.6 436.1,294.6 436.8,294.7 437.5,294.8 438.2,294.9 438.9,295.0 439.6,295.1 440.4,295.3 441.1,295.4 441.8,295.5 442.6,295.7 443.3,295.8 444.1,296.0 444.8,296.2 445.5,296.5 446.3,296.8 447.1,297.2 447.8,297.5 448.6,297.9 449.4,298.4 450.1,298.9 450.8,299.4 451.4,299.9 452.1,300.4 452.6,301.0 453.2,301.6 453.7,302.3 454.2,303.0 454.6,303.6 455.1,304.3 455.7,304.9 455.7,316.7 455.1,316.5 454.6,316.4 454.2,316.2 453.7,316.0 453.2,315.9 452.6,315.6 452.1,315.4 451.4,315.0 450.8,314.6 450.1,314.1 449.4,313.4 448.6,312.8 447.8,312.2 447.1,311.6 446.3,311.1 445.5,310.8 444.8,310.7 444.1,310.6 443.3,310.6 442.6,310.7 441.8,310.9 441.1,311.1 440.4,311.2 439.6,311.3 438.9,311.4 438.2,311.5 437.5,311.6 436.8,311.7 436.1,311.9 435.4,312.1 434.7,312.3 434.1,312.5 433.5,312.8 432.9,313.2 432.3,313.7 431.8,314.1 431.2,314.6 430.7,315.1 430.1,315.5 429.5,315.9 428.9,316.2 428.3,316.6 427.6,316.9 426.9,317.2 426.3,317.5 425.6,317.8 424.8,318.1 424.1,318.4 423.4,318.8 422.6,319.1 421.8,319.5 421.0,319.8 420.2,320.2 419.4,320.5 418.5,320.8 417.7,321.0 416.9,321.1 416.0,321.1 415.2,321.0 414.4,321.0 413.5,320.9 412.7,320.8 411.8,320.8 411.0,321.0 410.1,321.1 409.4,321.4 408.6,321.7 407.8,322.1 407.0,322.4 406.1,322.8 405.2,323.1 404.2,323.5 403.1,323.8 401.9,324.1 400.7,324.4 399.4,324.7 398.0,325.1 396.7,325.4 395.4,325.7 394.1,326.0 392.8,326.3 391.5,326.7 390.2,327.0 388.9,327.4 387.6,327.7 386.4,328.0 385.2,328.3 384.0,328.5 382.8,328.7 381.7,328.9 380.7,329.1 379.6,329.2 378.6,329.3 377.6,329.3 376.5,329.4 375.5,329.4 374.6,329.3 373.6,329.2 372.7,329.1 371.8,328.9 370.9,328.7 369.9,328.6 369.0,328.5 368.0,328.5 366.9,328.6 365.8,328.8 364.7,329.1 363.6,329.3 362.4,329.6 361.2,329.9 360.0,330.1 358.7,330.2 357.3,330.3 355.8,330.4 354.3,330.4 352.7,330.4 351.2,330.4 349.6,330.4 348.2,330.3 346.9,330.2 345.6,330.1 344.5,330.0 343.4,329.8 342.4,329.6 341.4,329.3 340.4,329.1 339.4,328.8 338.4,328.5 337.4,328.2 336.4,327.9 335.4,327.5 334.4,327.1 333.5,326.7 332.5,326.3 331.5,325.9 330.5,325.5" fill="#66c2a5" fill-opacity="0.3"/>
<polyline points="330.5,319.8 368.0,321.5 404.2,312.5 424.1,308.8 434.1,303.6 445.5,303.2 455.7,310.8" fill="none" stroke="#66c2a5" stroke-width="1.4" stroke-linejoin="round"/>
<line x1="330.5" y1="335.45" x2="455.0" y2="335.45" stroke="#000" stroke-width="1.25" stroke-dasharray="1.25 2.07"/>
</g>
<rect x="330.5" y="283.2" width="124.50" height="76.00" fill="none" stroke="#262626" stroke-width="0.9"/>
<path d="M330.50,359.2v3.0M372.00,359.2v3.0M413.50,359.2v3.0M455.00,359.2v3.0M330.5,301.60h-3.0M330.5,335.45h-3.0" stroke="#262626" stroke-width="0.9" fill="none"/>
<text x="396.7" y="278.0" font-size="16.1" text-anchor="middle">MU</text>
<text x="449.2" y="298.8" font-size="16" text-anchor="end">D</text>
<text x="328.2" y="377.4" font-size="12" text-anchor="middle">0</text>
<text x="370.2" y="377.4" font-size="12" text-anchor="middle">50</text>
<text x="412.5" y="377.4" font-size="12" text-anchor="middle">100</text>
<text x="454.0" y="377.4" font-size="12" text-anchor="middle">150</text>
<text x="391.2" y="393.7" font-size="16" text-anchor="middle">Dosage</text>
</g>
<g><clipPath id="cp23"><rect x="470.5" y="283.2" width="124.5" height="76.0"/></clipPath>
<g clip-path="url(#cp23)">
<polygon points="470.5,331.9 471.7,331.5 472.9,331.1 474.0,330.7 475.2,330.3 476.4,329.9 477.6,329.5 478.8,329.2 480.1,328.9 481.5,328.6 483.0,328.3 484.5,328.1 486.0,327.8 487.5,327.6 489.0,327.4 490.5,327.3 491.9,327.2 493.3,327.1 494.7,327.2 496.0,327.2 497.4,327.3 498.6,327.4 499.9,327.5 501.0,327.6 502.0,327.7 503.0,327.8 503.7,327.9 504.3,328.1 504.9,328.2 505.6,328.4 506.2,328.5 507.0,328.5 508.0,328.5 509.1,328.5 510.4,328.3 511.8,328.1 513.3,327.8 514.8,327.6 516.2,327.4 517.6,327.2 518.9,327.2 520.1,327.3 521.2,327.4 522.3,327.6 523.4,327.8 524.4,328.1 525.4,328.4 526.4,328.6 527.3,328.9 528.3,329.2 529.1,329.5 529.9,329.9 530.6,330.2 531.4,330.6 532.2,330.8 533.1,331.0 534.1,331.1 535.2,330.9 536.4,330.6 537.7,330.2 539.1,329.7 540.4,329.2 541.7,328.8 543.0,328.6 544.2,328.5 545.4,328.8 546.4,329.2 547.5,329.8 548.5,330.4 549.6,331.1 550.6,331.6 551.6,332.1 552.7,332.3 553.7,332.2 554.8,331.9 555.9,331.5 557.0,331.0 558.0,330.5 559.1,330.0 560.1,329.6 561.1,329.4 562.0,329.3 563.0,329.4 563.9,329.6 564.8,329.8 565.6,330.0 566.4,330.2 567.2,330.4 567.8,330.6 568.4,330.7 568.9,330.7 569.3,330.8 569.7,330.8 570.0,330.8 570.4,330.9 570.8,331.0 571.2,331.1 571.7,331.3 572.2,331.5 572.7,331.8 573.2,332.1 573.7,332.4 574.2,332.6 574.8,332.7 575.4,332.8 576.1,332.6 576.8,332.3 577.5,332.0 578.2,331.5 579.0,331.1 579.8,330.7 580.5,330.4 581.3,330.2 582.1,330.2 582.9,330.3 583.8,330.5 584.6,330.7 585.4,330.9 586.3,331.1 587.2,331.1 588.1,331.1 589.0,330.9 589.9,330.5 590.9,330.1 591.8,329.6 592.8,329.1 593.7,328.6 594.7,328.1 595.7,327.7 595.7,337.0 594.7,337.3 593.7,337.7 592.8,338.0 591.8,338.4 590.9,338.7 589.9,339.1 589.0,339.3 588.1,339.5 587.2,339.6 586.3,339.7 585.4,339.7 584.6,339.7 583.8,339.6 582.9,339.6 582.1,339.5 581.3,339.5 580.5,339.5 579.8,339.5 579.0,339.5 578.2,339.4 577.5,339.4 576.8,339.4 576.1,339.4 575.4,339.5 574.8,339.6 574.2,339.8 573.7,339.9 573.2,340.1 572.7,340.3 572.2,340.5 571.7,340.6 571.2,340.7 570.8,340.7 570.4,340.8 570.0,340.8 569.7,340.8 569.3,340.7 568.9,340.6 568.4,340.5 567.8,340.3 567.2,340.1 566.4,339.8 565.6,339.4 564.8,339.0 563.9,338.6 563.0,338.2 562.0,337.9 561.1,337.8 560.1,337.8 559.1,337.9 558.0,338.1 557.0,338.3 555.9,338.6 554.8,338.9 553.7,339.2 552.7,339.5 551.6,339.9 550.6,340.4 549.6,340.9 548.5,341.5 547.5,342.0 546.4,342.4 545.4,342.7 544.2,342.9 543.0,342.8 541.7,342.6 540.4,342.2 539.1,341.7 537.7,341.2 536.4,340.8 535.2,340.5 534.1,340.3 533.1,340.4 532.2,340.5 531.4,340.7 530.6,341.0 529.9,341.3 529.1,341.6 528.3,341.9 527.3,342.0 526.4,342.1 525.4,342.3 524.4,342.3 523.4,342.4 522.3,342.4 521.2,342.4 520.1,342.2 518.9,342.0 517.6,341.7 516.2,341.1 514.8,340.5 513.3,339.8 511.8,339.2 510.4,338.6 509.1,338.1 508.0,337.8 507.0,337.8 506.2,337.8 505.6,338.0 504.9,338.3 504.3,338.7 503.7,339.0 503.0,339.3 502.0,339.5 501.0,339.7 499.9,339.9 498.6,340.1 497.4,340.2 496.0,340.4 494.7,340.5 493.3,340.6 491.9,340.7 490.5,340.7 489.0,340.7 487.5,340.7 486.0,340.7 484.5,340.6 483.0,340.6 481.5,340.5 480.1,340.3 478.8,340.2 477.6,340.0 476.4,339.8 475.2,339.6 474.0,339.4 472.9,339.1 471.7,338.9 470.5,338.7" fill="#66c2a5" fill-opacity="0.3"/>
<polyline points="470.5,335.5 486.9,334.1 503.7,333.3 518.9,334.3 534.1,335.6 552.7,335.6 564.1,333.3 574.1,336.6 588.1,335.0 595.7,331.9" fill="none" stroke="#66c2a5" stroke-width="1.4" stroke-linejoin="round"/>
<line x1="470.5" y1="335.45" x2="595.0" y2="335.45" stroke="#000" stroke-width="1.25" stroke-dasharray="1.25 2.07"/>
</g>
<rect x="470.5" y="283.2" width="124.50" height="76.00" fill="none" stroke="#262626" stroke-width="0.9"/>
<path d="M470.50,359.2v3.0M512.00,359.2v3.0M553.50,359.2v3.0M595.00,359.2v3.0M470.5,301.60h-3.0M470.5,335.45h-3.0" stroke="#262626" stroke-width="0.9" fill="none"/>
<text x="536.2" y="278.0" font-size="16.1" text-anchor="middle">MU and WO</text>
<text x="588.7" y="298.8" font-size="16" text-anchor="end">S</text>
</g>
<g><clipPath id="cp24"><rect x="611.5" y="283.2" width="124.5" height="76.0"/></clipPath>
<g clip-path="url(#cp24)">
<polygon points="611.5,333.9 613.6,333.8 615.7,333.6 617.8,333.4 619.9,333.2 621.9,333.1 624.0,332.9 626.0,332.8 627.9,332.8 629.7,332.8 631.6,332.8 633.4,332.9 635.2,333.1 636.9,333.2 638.5,333.4 640.0,333.5 641.4,333.6 642.5,333.7 643.4,333.8 644.1,333.9 644.7,334.0 645.4,334.1 646.1,334.2 647.0,334.2 648.1,334.1 649.5,334.0 651.0,333.8 652.7,333.5 654.4,333.2 656.2,332.9 658.1,332.6 659.9,332.4 661.6,332.3 663.3,332.2 665.1,332.2 666.9,332.3 668.7,332.4 670.4,332.5 672.1,332.6 673.7,332.7 675.1,332.8 676.4,332.7 677.5,332.7 678.6,332.6 679.5,332.5 680.5,332.4 681.4,332.3 682.4,332.3 683.5,332.3 684.7,332.3 686.0,332.4 687.4,332.5 688.7,332.6 690.0,332.7 691.3,332.8 692.5,332.8 693.7,332.8 694.7,332.6 695.6,332.3 696.4,332.0 697.2,331.6 698.0,331.2 698.8,330.8 699.6,330.5 700.4,330.2 701.2,330.0 702.0,329.7 702.8,329.5 703.6,329.3 704.4,329.1 705.2,329.0 706.1,328.9 707.1,328.9 708.3,328.9 709.6,329.1 710.9,329.3 712.3,329.6 713.7,329.8 715.0,330.0 716.2,330.2 717.3,330.2 718.1,330.2 718.8,330.0 719.5,329.7 720.0,329.5 720.5,329.2 721.1,328.9 721.6,328.7 722.3,328.5 723.1,328.5 723.9,328.5 724.7,328.5 725.5,328.5 726.4,328.6 727.3,328.6 728.2,328.6 729.1,328.5 730.0,328.4 730.9,328.3 731.9,328.1 732.8,328.0 733.8,327.8 734.7,327.6 735.7,327.4 736.7,327.2 736.7,332.3 735.7,332.5 734.7,332.8 733.8,333.1 732.8,333.4 731.9,333.7 730.9,333.9 730.0,334.2 729.1,334.4 728.2,334.7 727.3,334.8 726.4,335.0 725.5,335.1 724.7,335.3 723.9,335.5 723.1,335.8 722.3,336.1 721.6,336.6 721.1,337.1 720.5,337.8 720.0,338.4 719.5,339.1 718.8,339.7 718.1,340.3 717.3,340.7 716.2,341.0 715.0,341.3 713.7,341.5 712.3,341.7 710.9,341.8 709.6,341.9 708.3,342.0 707.1,342.0 706.1,342.0 705.2,342.0 704.4,341.9 703.6,341.8 702.8,341.7 702.0,341.5 701.2,341.4 700.4,341.2 699.6,341.0 698.8,340.7 698.0,340.3 697.2,340.0 696.4,339.6 695.6,339.4 694.7,339.1 693.7,339.0 692.5,339.0 691.3,339.1 690.0,339.2 688.7,339.4 687.4,339.6 686.0,339.8 684.7,339.9 683.5,340.0 682.4,340.0 681.4,340.0 680.5,339.9 679.5,339.9 678.6,339.8 677.5,339.7 676.4,339.6 675.1,339.5 673.7,339.4 672.1,339.3 670.4,339.2 668.7,339.1 666.9,339.0 665.1,338.9 663.3,338.8 661.6,338.7 659.9,338.5 658.1,338.3 656.2,338.1 654.4,337.9 652.7,337.6 651.0,337.5 649.5,337.4 648.1,337.3 647.0,337.4 646.1,337.5 645.4,337.6 644.7,337.9 644.1,338.1 643.4,338.3 642.5,338.5 641.4,338.7 640.0,338.8 638.5,339.0 636.9,339.2 635.2,339.3 633.4,339.5 631.6,339.5 629.7,339.6 627.9,339.5 626.0,339.4 624.0,339.1 621.9,338.8 619.9,338.5 617.8,338.1 615.7,337.7 613.6,337.3 611.5,337.0" fill="#66c2a5" fill-opacity="0.26"/>
<polyline points="611.5,335.5 715.1,335.5 720.6,333.3 729.1,331.9 736.7,329.9" fill="none" stroke="#66c2a5" stroke-width="1.4" stroke-linejoin="round"/>
<line x1="611.5" y1="335.45" x2="736.25" y2="335.45" stroke="#000" stroke-width="1.25" stroke-dasharray="1.25 2.07"/>
</g>
<rect x="611.5" y="283.2" width="124.75" height="76.00" fill="none" stroke="#262626" stroke-width="0.9"/>
<path d="M611.50,359.2v3.0M653.08,359.2v3.0M694.67,359.2v3.0M736.25,359.2v3.0M611.5,301.60h-3.0M611.5,335.45h-3.0" stroke="#262626" stroke-width="0.9" fill="none"/>
<text x="674.1" y="278.0" font-size="16.1" text-anchor="middle">MU and SU</text>
<text x="728.1" y="298.8" font-size="16" text-anchor="end">D</text>
</g>
<g><clipPath id="cp33"><rect x="470.5" y="395.6" width="124.5" height="76.0"/></clipPath>
<g clip-path="url(#cp33)">
<polygon points="470.5,444.8 471.5,444.1 472.5,443.3 473.5,442.6 474.4,441.9 475.4,441.2 476.4,440.5 477.4,439.8 478.4,439.2 479.5,438.6 480.5,437.9 481.5,437.3 482.5,436.7 483.6,436.2 484.6,435.6 485.7,435.1 486.9,434.6 488.0,434.2 489.3,433.8 490.5,433.5 491.8,433.2 493.1,432.9 494.4,432.6 495.7,432.4 497.0,432.1 498.3,431.9 499.7,431.6 501.1,431.4 502.5,431.2 503.9,431.0 505.3,430.8 506.7,430.6 508.0,430.4 509.2,430.2 510.4,429.9 511.6,429.6 512.7,429.4 513.9,429.1 515.0,428.9 516.1,428.8 517.2,428.7 518.3,428.8 519.4,428.9 520.5,429.0 521.5,429.3 522.5,429.5 523.6,429.8 524.6,430.1 525.7,430.4 526.7,430.8 527.7,431.1 528.8,431.6 529.8,432.0 530.8,432.5 531.9,432.9 533.0,433.4 534.1,433.8 535.3,434.2 536.5,434.6 537.8,435.1 539.2,435.5 540.5,435.9 541.8,436.3 543.0,436.7 544.2,437.2 545.3,437.6 546.4,438.0 547.4,438.5 548.3,438.9 549.3,439.3 550.4,439.8 551.5,440.2 552.7,440.5 553.9,440.9 555.3,441.3 556.8,441.6 558.3,441.9 559.8,442.2 561.3,442.5 562.7,442.8 564.1,443.1 565.5,443.4 566.8,443.7 568.2,444.1 569.5,444.4 570.7,444.7 571.9,444.8 573.0,444.9 574.1,444.8 575.0,444.5 575.7,444.0 576.4,443.5 577.1,442.8 577.7,442.1 578.3,441.3 578.9,440.5 579.6,439.7 580.4,438.9 581.3,438.0 582.2,437.1 583.0,436.1 583.9,435.2 584.8,434.2 585.6,433.3 586.4,432.4 587.1,431.7 587.8,430.9 588.4,430.2 589.1,429.4 589.7,428.7 590.3,428.1 590.9,427.4 591.4,426.7 592.0,426.0 592.6,425.4 593.1,424.8 593.6,424.1 594.1,423.5 594.6,422.9 595.1,422.3 595.7,421.7 595.7,433.8 595.1,434.5 594.6,435.1 594.1,435.8 593.6,436.5 593.1,437.2 592.6,437.9 592.0,438.5 591.4,439.2 590.9,439.9 590.3,440.6 589.7,441.3 589.1,441.9 588.4,442.6 587.8,443.3 587.1,443.9 586.4,444.4 585.6,444.9 584.8,445.4 583.9,445.9 583.0,446.3 582.2,446.7 581.3,447.0 580.4,447.3 579.6,447.6 578.9,447.9 578.3,448.1 577.7,448.3 577.1,448.4 576.4,448.5 575.7,448.6 575.0,448.6 574.1,448.6 573.0,448.6 571.9,448.5 570.7,448.3 569.5,448.2 568.2,448.0 566.8,447.8 565.5,447.7 564.1,447.6 562.7,447.6 561.3,447.7 559.8,447.8 558.3,447.9 556.8,448.0 555.3,448.1 553.9,448.1 552.7,448.1 551.5,448.1 550.4,448.0 549.3,447.8 548.3,447.7 547.4,447.5 546.4,447.3 545.3,447.1 544.2,447.0 543.0,446.8 541.8,446.6 540.5,446.4 539.2,446.2 537.8,446.0 536.5,445.8 535.3,445.7 534.1,445.6 533.0,445.5 531.9,445.5 530.8,445.5 529.8,445.5 528.8,445.5 527.7,445.6 526.7,445.6 525.7,445.6 524.6,445.6 523.6,445.6 522.5,445.6 521.5,445.7 520.5,445.7 519.4,445.7 518.3,445.6 517.2,445.6 516.1,445.5 515.0,445.4 513.9,445.3 512.7,445.1 511.6,445.0 510.4,444.9 509.2,444.8 508.0,444.8 506.7,444.8 505.3,444.8 503.9,444.9 502.5,445.0 501.1,445.2 499.7,445.3 498.3,445.5 497.0,445.6 495.7,445.8 494.4,445.9 493.1,446.1 491.8,446.3 490.5,446.5 489.3,446.7 488.0,446.8 486.9,447.0 485.7,447.1 484.6,447.2 483.6,447.3 482.5,447.4 481.5,447.5 480.5,447.5 479.5,447.6 478.4,447.6 477.4,447.7 476.4,447.7 475.4,447.7 474.4,447.7 473.5,447.7 472.5,447.6 471.5,447.6 470.5,447.6" fill="#66c2a5" fill-opacity="0.3"/>
<polyline points="470.5,446.4 508.0,437.2 514.2,437.1 520.6,437.5 527.3,438.4 534.1,439.7 543.4,442.1 552.7,444.3 564.1,445.1 574.1,447.0 579.6,444.8 586.4,439.7 591.4,433.0 595.7,426.2" fill="none" stroke="#66c2a5" stroke-width="1.4" stroke-linejoin="round"/>
<line x1="470.5" y1="448.2" x2="595.0" y2="448.2" stroke="#000" stroke-width="1.25" stroke-dasharray="1.25 2.07"/>
</g>
<rect x="470.5" y="395.6" width="124.50" height="76.00" fill="none" stroke="#262626" stroke-width="0.9"/>
<path d="M470.50,471.6v3.0M512.00,471.6v3.0M553.50,471.6v3.0M595.00,471.6v3.0M470.5,414.35h-3.0M470.5,448.20h-3.0" stroke="#262626" stroke-width="0.9" fill="none"/>
<text x="535.7" y="391.2" font-size="16.1" text-anchor="middle">WO</text>
<text x="588.7" y="412.4" font-size="16" text-anchor="end">D</text>
<text x="463.3" y="490.0" font-size="12" text-anchor="middle">0</text>
<text x="505.4" y="490.0" font-size="12" text-anchor="middle">50</text>
<text x="547.6" y="490.0" font-size="12" text-anchor="middle">100</text>
<text x="589.2" y="490.0" font-size="12" text-anchor="middle">150</text>
<text x="529.8" y="507.1" font-size="16" text-anchor="middle">Dosage</text>
</g>
<g><clipPath id="cp34"><rect x="611.5" y="395.6" width="124.5" height="76.0"/></clipPath>
<g clip-path="url(#cp34)">
<polygon points="611.5,447.0 614.2,446.8 617.0,446.6 619.8,446.3 622.6,446.1 625.4,445.9 628.0,445.8 630.5,445.6 632.9,445.6 635.1,445.7 637.2,445.9 639.2,446.1 641.0,446.4 642.8,446.6 644.6,446.9 646.3,447.0 648.1,447.0 649.9,446.8 651.5,446.4 653.1,446.0 654.8,445.6 656.4,445.1 658.0,444.6 659.8,444.2 661.6,443.9 663.6,443.7 665.6,443.6 667.8,443.5 669.9,443.4 672.1,443.4 674.3,443.3 676.4,443.2 678.5,443.1 680.5,442.8 682.5,442.5 684.6,442.2 686.6,441.8 688.5,441.4 690.4,441.2 692.1,441.0 693.7,440.9 695.0,440.9 696.2,441.1 697.3,441.4 698.3,441.7 699.2,442.1 700.1,442.5 701.1,442.8 702.1,443.1 703.1,443.3 704.2,443.5 705.2,443.8 706.2,444.0 707.2,444.2 708.3,444.4 709.4,444.6 710.5,444.8 711.7,444.9 713.0,445.2 714.3,445.4 715.6,445.6 716.9,445.8 718.2,445.8 719.4,445.8 720.6,445.6 721.8,445.2 722.9,444.7 724.0,444.1 725.0,443.3 726.0,442.6 727.1,441.8 728.1,441.1 729.1,440.5 730.1,440.0 731.0,439.6 732.0,439.2 732.9,438.8 733.9,438.4 734.8,438.0 735.7,437.6 736.7,437.2 736.7,442.2 735.7,442.6 734.8,443.0 733.9,443.3 732.9,443.7 732.0,444.1 731.0,444.4 730.1,444.8 729.1,445.3 728.1,445.7 727.1,446.3 726.0,446.9 725.0,447.4 724.0,448.0 722.9,448.5 721.8,449.0 720.6,449.3 719.4,449.6 718.2,449.8 716.9,449.9 715.6,450.0 714.3,450.0 713.0,450.0 711.7,449.9 710.5,449.8 709.4,449.7 708.3,449.4 707.2,449.2 706.2,448.8 705.2,448.5 704.2,448.2 703.1,447.9 702.1,447.6 701.1,447.4 700.1,447.2 699.2,447.0 698.3,446.8 697.3,446.7 696.2,446.6 695.0,446.5 693.7,446.4 692.1,446.5 690.4,446.6 688.5,446.7 686.6,446.9 684.6,447.1 682.5,447.3 680.5,447.5 678.5,447.6 676.4,447.8 674.3,448.0 672.1,448.2 669.9,448.4 667.8,448.6 665.6,448.7 663.6,448.9 661.6,449.0 659.8,449.0 658.0,449.0 656.4,449.0 654.8,449.0 653.1,448.9 651.5,448.9 649.9,448.9 648.1,449.0 646.3,449.1 644.6,449.3 642.8,449.5 641.0,449.7 639.2,450.0 637.2,450.1 635.1,450.3 632.9,450.3 630.5,450.3 628.0,450.2 625.4,450.0 622.6,449.8 619.8,449.6 617.0,449.4 614.2,449.2 611.5,449.0" fill="#66c2a5" fill-opacity="0.26"/>
<polyline points="611.5,448.1 648.1,448.0 675.1,445.9 693.7,444.8 705.1,447.0 712.2,447.3 720.6,447.3 729.1,443.1 736.7,439.7" fill="none" stroke="#66c2a5" stroke-width="1.4" stroke-linejoin="round"/>
<line x1="611.5" y1="448.2" x2="736.25" y2="448.2" stroke="#000" stroke-width="1.25" stroke-dasharray="1.25 2.07"/>
</g>
<rect x="611.5" y="395.6" width="124.75" height="76.00" fill="none" stroke="#262626" stroke-width="0.9"/>
<path d="M611.50,471.6v3.0M653.08,471.6v3.0M694.67,471.6v3.0M736.25,471.6v3.0M611.5,414.35h-3.0M611.5,448.20h-3.0" stroke="#262626" stroke-width="0.9" fill="none"/>
<text x="674.9" y="391.2" font-size="16.1" text-anchor="middle">WO and SU</text>
<text x="728.1" y="412.4" font-size="16" text-anchor="end">D</text>
</g>
<g><clipPath id="cp44"><rect x="611.5" y="508.5" width="124.5" height="76.0"/></clipPath>
<g clip-path="url(#cp44)">
<polygon points="611.5,559.4 613.5,559.3 615.5,559.1 617.4,558.9 619.4,558.7 621.4,558.5 623.4,558.4 625.6,558.3 627.9,558.3 630.3,558.3 633.0,558.4 635.8,558.6 638.6,558.9 641.5,559.1 644.2,559.3 646.7,559.4 649.0,559.4 650.9,559.4 652.7,559.3 654.3,559.2 655.8,559.0 657.2,558.8 658.6,558.7 660.0,558.5 661.6,558.3 663.3,558.1 665.0,557.9 666.7,557.7 668.5,557.4 670.2,557.2 671.9,557.0 673.6,556.8 675.1,556.6 676.5,556.4 677.9,556.2 679.2,556.0 680.5,555.8 681.7,555.6 682.9,555.5 684.1,555.3 685.2,555.2 686.3,555.2 687.4,555.2 688.4,555.2 689.3,555.2 690.3,555.2 691.4,555.2 692.5,555.1 693.7,554.9 695.0,554.6 696.4,554.1 697.9,553.6 699.5,553.1 701.0,552.5 702.5,552.0 703.9,551.5 705.1,551.0 706.2,550.6 707.3,550.2 708.3,549.9 709.2,549.5 710.0,549.2 710.8,548.9 711.6,548.7 712.2,548.5 712.7,548.3 713.2,548.3 713.5,548.2 713.7,548.2 714.0,548.2 714.3,548.3 714.6,548.4 715.1,548.5 715.6,548.7 716.3,548.9 717.0,549.2 717.7,549.5 718.5,549.9 719.2,550.1 719.9,550.4 720.6,550.5 721.3,550.5 722.0,550.5 722.6,550.4 723.3,550.2 723.9,550.1 724.6,549.9 725.2,549.9 725.7,549.8 726.2,549.9 726.6,550.0 726.9,550.2 727.2,550.4 727.6,550.5 728.0,550.7 728.5,550.8 729.1,550.8 729.8,550.8 730.7,550.7 731.6,550.6 732.6,550.5 733.6,550.3 734.7,550.1 735.7,550.0 736.7,549.8 736.7,554.4 735.7,554.5 734.7,554.6 733.6,554.8 732.6,554.9 731.6,555.0 730.7,555.1 729.8,555.2 729.1,555.2 728.5,555.2 728.0,555.2 727.6,555.2 727.2,555.1 726.9,555.0 726.6,555.0 726.2,554.9 725.7,554.9 725.2,554.9 724.6,555.0 723.9,555.0 723.3,555.1 722.6,555.2 722.0,555.2 721.3,555.3 720.6,555.2 719.9,555.1 719.2,555.0 718.5,554.8 717.7,554.5 717.0,554.3 716.3,554.1 715.6,554.0 715.1,553.9 714.6,553.8 714.3,553.8 714.0,553.9 713.7,553.9 713.5,554.0 713.2,554.1 712.7,554.3 712.2,554.4 711.6,554.5 710.8,554.7 710.0,554.9 709.2,555.1 708.3,555.4 707.3,555.6 706.2,555.8 705.1,556.1 703.9,556.3 702.5,556.6 701.0,556.9 699.5,557.2 697.9,557.5 696.4,557.8 695.0,558.0 693.7,558.3 692.5,558.5 691.4,558.6 690.3,558.8 689.3,558.9 688.4,559.0 687.4,559.1 686.3,559.2 685.2,559.3 684.1,559.3 682.9,559.4 681.7,559.4 680.5,559.4 679.2,559.5 677.9,559.5 676.5,559.5 675.1,559.6 673.6,559.7 671.9,559.8 670.2,559.9 668.5,560.1 666.7,560.2 665.0,560.4 663.3,560.5 661.6,560.6 660.0,560.8 658.6,560.9 657.2,561.1 655.8,561.2 654.3,561.4 652.7,561.5 650.9,561.6 649.0,561.6 646.7,561.6 644.2,561.5 641.5,561.4 638.6,561.2 635.8,561.1 633.0,560.9 630.3,560.8 627.9,560.8 625.6,560.8 623.4,560.9 621.4,561.0 619.4,561.1 617.4,561.2 615.5,561.4 613.5,561.5 611.5,561.6" fill="#66c2a5" fill-opacity="0.3"/>
<polyline points="611.5,560.5 627.9,559.4 649.0,560.5 675.1,558.3 693.7,556.9 705.1,553.5 715.1,551.3 720.6,553.0 725.7,552.4 729.1,553.2 736.7,552.2" fill="none" stroke="#66c2a5" stroke-width="1.4" stroke-linejoin="round"/>
<line x1="611.5" y1="560.8" x2="736.25" y2="560.8" stroke="#000" stroke-width="1.25" stroke-dasharray="1.25 2.07"/>
</g>
<rect x="611.5" y="508.5" width="124.75" height="76.00" fill="none" stroke="#262626" stroke-width="0.9"/>
<path d="M611.50,584.5v3.0M653.08,584.5v3.0M694.67,584.5v3.0M736.25,584.5v3.0M611.5,526.95h-3.0M611.5,560.80h-3.0" stroke="#262626" stroke-width="0.9" fill="none"/>
<text x="675.3" y="504.9" font-size="16.1" text-anchor="middle">SU</text>
<text x="728.1" y="526.0" font-size="16" text-anchor="end">D</text>
<text x="604.1" y="603.0" font-size="12" text-anchor="middle">0</text>
<text x="646.2" y="603.0" font-size="12" text-anchor="middle">50</text>
<text x="688.4" y="603.0" font-size="12" text-anchor="middle">100</text>
<text x="730.0" y="603.0" font-size="12" text-anchor="middle">150</text>
<text x="672.4" y="620.6" font-size="16" text-anchor="middle">Dosage</text>
</g>
<g><clipPath id="cpd"><rect x="56.5" y="493.0" width="157.35" height="92.95000000000005"/></clipPath><g clip-path="url(#cpd)">
<polygon points="56.4,583.7 57.0,583.3 57.6,583.0 58.3,582.7 58.9,582.4 59.5,582.1 60.1,581.6 60.8,581.1 61.5,580.5 62.2,579.7 63.0,578.8 63.9,577.7 64.7,576.6 65.6,575.5 66.4,574.4 67.2,573.4 67.9,572.5 68.6,571.7 69.2,570.9 69.8,570.1 70.4,569.4 71.0,568.7 71.5,568.1 72.1,567.5 72.6,567.0 73.1,566.5 73.6,566.1 74.2,565.7 74.6,565.4 75.1,565.1 75.6,564.8 76.1,564.5 76.6,564.3 77.1,564.1 77.6,563.9 78.0,563.7 78.5,563.6 79.0,563.5 79.5,563.4 80.0,563.3 80.6,563.3 81.2,563.3 81.9,563.4 82.5,563.4 83.2,563.5 84.0,563.7 84.7,563.8 85.4,564.0 86.1,564.3 86.8,564.6 87.4,565.0 88.1,565.4 88.8,565.8 89.4,566.3 90.1,566.8 90.9,567.3 91.7,567.8 92.6,568.4 93.5,569.0 94.5,569.6 95.5,570.3 96.5,571.0 97.6,571.7 98.6,572.3 99.6,572.9 100.6,573.5 101.6,574.0 102.6,574.6 103.6,575.1 104.6,575.6 105.6,576.1 106.6,576.6 107.6,577.0 108.6,577.4 109.6,577.8 110.6,578.2 111.6,578.5 112.5,578.8 113.5,579.1 114.5,579.4 115.5,579.7 116.5,580.0 117.5,580.2 118.5,580.4 119.4,580.6 120.4,580.8 121.4,581.0 122.4,581.1 123.4,581.3 124.4,581.5 125.5,581.6 126.6,581.8 127.6,581.9 128.7,582.0 129.7,582.2 130.6,582.3 131.4,582.4 132.0,582.5 132.4,582.6 132.6,582.6 132.8,582.7 133.1,582.7 133.6,582.8 134.3,582.9 135.5,583.0 137.1,583.1 139.0,583.3 141.2,583.5 143.6,583.6 146.2,583.8 148.8,584.0 151.4,584.2 153.9,584.3 156.3,584.4 158.5,584.5 160.8,584.6 163.1,584.7 165.5,584.8 168.3,584.9 171.3,584.9 174.8,585.0 178.8,585.1 183.2,585.1 188.0,585.1 193.1,585.2 198.3,585.2 203.5,585.2 208.6,585.3 213.6,585.3 213.8,586.0 56.5,586.0" fill="#ff8c1a" fill-opacity="0.3"/>
<polyline points="56.4,583.7 57.0,583.3 57.6,583.0 58.3,582.7 58.9,582.4 59.5,582.1 60.1,581.6 60.8,581.1 61.5,580.5 62.2,579.7 63.0,578.8 63.9,577.7 64.7,576.6 65.6,575.5 66.4,574.4 67.2,573.4 67.9,572.5 68.6,571.7 69.2,570.9 69.8,570.1 70.4,569.4 71.0,568.7 71.5,568.1 72.1,567.5 72.6,567.0 73.1,566.5 73.6,566.1 74.2,565.7 74.6,565.4 75.1,565.1 75.6,564.8 76.1,564.5 76.6,564.3 77.1,564.1 77.6,563.9 78.0,563.7 78.5,563.6 79.0,563.5 79.5,563.4 80.0,563.3 80.6,563.3 81.2,563.3 81.9,563.4 82.5,563.4 83.2,563.5 84.0,563.7 84.7,563.8 85.4,564.0 86.1,564.3 86.8,564.6 87.4,565.0 88.1,565.4 88.8,565.8 89.4,566.3 90.1,566.8 90.9,567.3 91.7,567.8 92.6,568.4 93.5,569.0 94.5,569.6 95.5,570.3 96.5,571.0 97.6,571.7 98.6,572.3 99.6,572.9 100.6,573.5 101.6,574.0 102.6,574.6 103.6,575.1 104.6,575.6 105.6,576.1 106.6,576.6 107.6,577.0 108.6,577.4 109.6,577.8 110.6,578.2 111.6,578.5 112.5,578.8 113.5,579.1 114.5,579.4 115.5,579.7 116.5,580.0 117.5,580.2 118.5,580.4 119.4,580.6 120.4,580.8 121.4,581.0 122.4,581.1 123.4,581.3 124.4,581.5 125.5,581.6 126.6,581.8 127.6,581.9 128.7,582.0 129.7,582.2 130.6,582.3 131.4,582.4 132.0,582.5 132.4,582.6 132.6,582.6 132.8,582.7 133.1,582.7 133.6,582.8 134.3,582.9 135.5,583.0 137.1,583.1 139.0,583.3 141.2,583.5 143.6,583.6 146.2,583.8 148.8,584.0 151.4,584.2 153.9,584.3 156.3,584.4 158.5,584.5 160.8,584.6 163.1,584.7 165.5,584.8 168.3,584.9 171.3,584.9 174.8,585.0 178.8,585.1 183.2,585.1 188.0,585.1 193.1,585.2 198.3,585.2 203.5,585.2 208.6,585.3 213.6,585.3" fill="none" stroke="#ff8c1a" stroke-width="0.9"/>
<polygon points="63.5,585.6 63.8,585.6 64.1,585.6 64.4,585.6 64.7,585.5 64.9,585.5 65.2,585.3 65.4,585.2 65.7,585.1 65.9,585.0 66.1,584.7 66.3,584.1 66.5,583.0 66.7,581.4 67.0,579.4 67.2,577.1 67.5,574.6 67.7,572.0 67.9,569.4 68.1,566.8 68.3,564.1 68.5,561.3 68.7,558.5 68.8,555.7 69.0,553.0 69.1,550.5 69.3,548.1 69.4,545.7 69.5,543.2 69.7,540.6 69.8,537.6 70.0,534.1 70.1,530.3 70.3,526.2 70.5,522.1 70.6,518.3 70.8,515.0 70.9,512.1 71.1,509.5 71.2,507.1 71.3,505.0 71.5,503.1 71.6,501.5 71.7,500.1 71.8,499.1 72.0,498.2 72.1,497.7 72.2,497.3 72.3,497.1 72.4,497.1 72.5,497.3 72.6,497.7 72.7,498.3 72.9,499.3 73.0,500.5 73.1,502.1 73.3,504.2 73.5,506.5 73.6,508.9 73.8,511.5 74.0,514.0 74.2,516.6 74.4,519.4 74.6,522.3 74.8,525.1 75.0,527.7 75.2,530.0 75.4,531.9 75.6,533.6 75.7,535.1 75.9,536.4 76.1,537.5 76.2,538.5 76.3,539.3 76.4,540.0 76.6,540.5 76.7,540.8 76.8,541.0 76.9,541.1 77.0,541.1 77.2,540.9 77.3,540.7 77.5,540.2 77.6,539.7 77.8,539.0 78.0,538.1 78.2,537.0 78.4,535.7 78.6,534.4 78.8,533.1 79.0,532.0 79.2,530.9 79.4,529.9 79.7,528.9 79.9,528.0 80.1,527.2 80.3,526.5 80.5,526.0 80.7,525.6 80.9,525.4 81.0,525.2 81.2,525.2 81.4,525.2 81.6,525.3 81.7,525.4 81.9,525.7 82.1,526.1 82.2,526.7 82.4,527.5 82.6,528.7 82.8,530.1 83.0,531.8 83.2,533.5 83.3,535.3 83.5,537.0 83.7,538.7 83.8,540.4 83.9,542.2 84.1,543.9 84.2,545.5 84.3,547.0 84.4,548.2 84.5,549.1 84.6,549.9 84.7,550.8 84.8,551.9 85.0,553.5 85.2,555.7 85.5,558.4 85.8,561.3 86.1,564.3 86.3,567.1 86.6,569.4 86.8,571.2 87.0,572.8 87.2,574.2 87.4,575.4 87.6,576.4 87.8,577.5 88.0,578.5 88.3,579.3 88.5,580.1 88.8,580.8 89.0,581.4 89.3,582.0 89.5,582.6 89.7,583.1 89.9,583.6 90.2,584.1 90.5,584.5 90.9,584.8 91.3,585.0 91.7,585.2 92.2,585.3 92.8,585.4 93.7,585.4 95.0,585.5 96.8,585.6 98.9,585.6 101.4,585.6 104.0,585.6 106.6,585.6 109.0,585.6 109.0,586.0 63.5,586.0" fill="#9467bd" fill-opacity="0.3"/>
<polyline points="63.5,585.6 63.8,585.6 64.1,585.6 64.4,585.6 64.7,585.5 64.9,585.5 65.2,585.3 65.4,585.2 65.7,585.1 65.9,585.0 66.1,584.7 66.3,584.1 66.5,583.0 66.7,581.4 67.0,579.4 67.2,577.1 67.5,574.6 67.7,572.0 67.9,569.4 68.1,566.8 68.3,564.1 68.5,561.3 68.7,558.5 68.8,555.7 69.0,553.0 69.1,550.5 69.3,548.1 69.4,545.7 69.5,543.2 69.7,540.6 69.8,537.6 70.0,534.1 70.1,530.3 70.3,526.2 70.5,522.1 70.6,518.3 70.8,515.0 70.9,512.1 71.1,509.5 71.2,507.1 71.3,505.0 71.5,503.1 71.6,501.5 71.7,500.1 71.8,499.1 72.0,498.2 72.1,497.7 72.2,497.3 72.3,497.1 72.4,497.1 72.5,497.3 72.6,497.7 72.7,498.3 72.9,499.3 73.0,500.5 73.1,502.1 73.3,504.2 73.5,506.5 73.6,508.9 73.8,511.5 74.0,514.0 74.2,516.6 74.4,519.4 74.6,522.3 74.8,525.1 75.0,527.7 75.2,530.0 75.4,531.9 75.6,533.6 75.7,535.1 75.9,536.4 76.1,537.5 76.2,538.5 76.3,539.3 76.4,540.0 76.6,540.5 76.7,540.8 76.8,541.0 76.9,541.1 77.0,541.1 77.2,540.9 77.3,540.7 77.5,540.2 77.6,539.7 77.8,539.0 78.0,538.1 78.2,537.0 78.4,535.7 78.6,534.4 78.8,533.1 79.0,532.0 79.2,530.9 79.4,529.9 79.7,528.9 79.9,528.0 80.1,527.2 80.3,526.5 80.5,526.0 80.7,525.6 80.9,525.4 81.0,525.2 81.2,525.2 81.4,525.2 81.6,525.3 81.7,525.4 81.9,525.7 82.1,526.1 82.2,526.7 82.4,527.5 82.6,528.7 82.8,530.1 83.0,531.8 83.2,533.5 83.3,535.3 83.5,537.0 83.7,538.7 83.8,540.4 83.9,542.2 84.1,543.9 84.2,545.5 84.3,547.0 84.4,548.2 84.5,549.1 84.6,549.9 84.7,550.8 84.8,551.9 85.0,553.5 85.2,555.7 85.5,558.4 85.8,561.3 86.1,564.3 86.3,567.1 86.6,569.4 86.8,571.2 87.0,572.8 87.2,574.2 87.4,575.4 87.6,576.4 87.8,577.5 88.0,578.5 88.3,579.3 88.5,580.1 88.8,580.8 89.0,581.4 89.3,582.0 89.5,582.6 89.7,583.1 89.9,583.6 90.2,584.1 90.5,584.5 90.9,584.8 91.3,585.0 91.7,585.2 92.2,585.3 92.8,585.4 93.7,585.4 95.0,585.5 96.8,585.6 98.9,585.6 101.4,585.6 104.0,585.6 106.6,585.6 109.0,585.6" fill="none" stroke="#9467bd" stroke-width="0.85"/>
</g>
<rect x="56.5" y="493.0" width="157.35" height="92.95000000000005" fill="none" stroke="#262626" stroke-width="0.9"/>
<path d="M56.50,585.95v2.5M95.84,585.95v2.5M135.18,585.95v2.5M174.51,585.95v2.5M213.85,585.95v2.5M56.5,585.80h-2.5M56.5,560.85h-2.5M56.5,535.90h-2.5M56.5,510.95h-2.5" stroke="#262626" stroke-width="0.9" fill="none"/>
<text x="54.5" y="598.6" font-size="13.33" text-anchor="middle">0</text>
<text x="85.1" y="598.6" font-size="13.33" text-anchor="middle">500</text>
<text x="126.9" y="598.6" font-size="13.33" text-anchor="middle">1000</text>
<text x="166.2" y="598.6" font-size="13.33" text-anchor="middle">1500</text>
<text x="204.7" y="598.6" font-size="13.33" text-anchor="middle">2000</text>
<text x="51.3" y="592.0" font-size="13.33" text-anchor="end">0.000</text>
<text x="51.3" y="567.0" font-size="13.33" text-anchor="end">0.002</text>
<text x="51.3" y="542.1" font-size="13.33" text-anchor="end">0.004</text>
<text x="51.3" y="517.1" font-size="13.33" text-anchor="end">0.006</text>
<text transform="translate(13.6,547.9) rotate(-90)" font-size="16" text-anchor="middle">Density</text>
<text x="145.7" y="465.5" font-size="16.3" text-anchor="middle">Posterior distribution of</text>
<text x="146.7" y="485.0" font-size="16.3" text-anchor="middle">lengthscales by SMC</text>
<text x="141.7" y="622.0" font-size="16.1" text-anchor="middle">Lengthscale</text>
<line x1="175.0" y1="504.2" x2="187.9" y2="504.2" stroke="#ff8c1a" stroke-width="1.3" stroke-opacity="0.85"/>
<line x1="175.0" y1="517.9" x2="187.9" y2="517.9" stroke="#9467bd" stroke-width="1.3" stroke-opacity="0.75"/>
<path transform="translate(192.2,497.0)" d="M0.1,6.2 C1.6,5.2 3.7,2.4 3.3,0.9 C3.0,-0.2 1.7,0.3 1.4,3.0 L1.15,7.4 C1.1,9.3 2.3,10.0 3.6,8.5" fill="none" stroke="#111" stroke-width="1.05" stroke-linecap="round"/>
<path transform="translate(192.2,510.5)" d="M0.1,6.2 C1.6,5.2 3.7,2.4 3.3,0.9 C3.0,-0.2 1.7,0.3 1.4,3.0 L1.15,7.4 C1.1,9.3 2.3,10.0 3.6,8.5" fill="none" stroke="#111" stroke-width="1.05" stroke-linecap="round"/>
<text x="196.9" y="510.1" font-size="7.4">RBF</text>
<text x="196.9" y="524.1" font-size="7.4">M12</text>
</g>
<g>
<rect x="298.95" y="497.55" width="2.90" height="88.35" fill="#9467bd" stroke="#3a2d4d" stroke-width="0.6"/>
<rect x="307.25" y="548.00" width="2.50" height="37.90" fill="#9467bd" stroke="#3a2d4d" stroke-width="0.6"/>
<rect x="310.25" y="545.01" width="2.40" height="40.89" fill="#9467bd" stroke="#3a2d4d" stroke-width="0.6"/>
<rect x="315.55" y="545.01" width="3.00" height="40.89" fill="#9467bd" stroke="#3a2d4d" stroke-width="0.6"/>
<rect x="321.75" y="546.34" width="2.70" height="39.56" fill="#9467bd" stroke="#3a2d4d" stroke-width="0.6"/>
<rect x="333.25" y="545.01" width="2.50" height="40.89" fill="#9467bd" stroke="#3a2d4d" stroke-width="0.6"/>
<rect x="345.85" y="543.84" width="2.70" height="42.06" fill="#9467bd" stroke="#3a2d4d" stroke-width="0.6"/>
<rect x="366.55" y="545.01" width="2.70" height="40.89" fill="#9467bd" stroke="#3a2d4d" stroke-width="0.6"/>
<rect x="395.65" y="543.84" width="2.80" height="42.06" fill="#9467bd" stroke="#3a2d4d" stroke-width="0.6"/>
<rect x="437.45" y="514.70" width="3.00" height="71.20" fill="#9467bd" stroke="#3a2d4d" stroke-width="0.6"/>
<rect x="291.8" y="493.0" width="155.8" height="92.89999999999998" fill="none" stroke="#262626" stroke-width="0.9"/>
<path d="M300.30,585.9v2.5M323.37,585.9v2.5M346.44,585.9v2.5M369.50,585.9v2.5M392.57,585.9v2.5M415.64,585.9v2.5M438.71,585.9v2.5M291.8,585.80h-2.5M291.8,569.15h-2.5M291.8,552.50h-2.5M291.8,535.85h-2.5M291.8,519.20h-2.5M291.8,502.55h-2.5" stroke="#262626" stroke-width="0.9" fill="none"/>
<text x="298.1" y="598.6" font-size="13.33" text-anchor="middle">0</text>
<text x="323.1" y="598.6" font-size="13.33" text-anchor="middle">25</text>
<text x="346.1" y="598.6" font-size="13.33" text-anchor="middle">50</text>
<text x="371.2" y="598.6" font-size="13.33" text-anchor="middle">75</text>
<text x="394.2" y="598.6" font-size="13.33" text-anchor="middle">100</text>
<text x="417.0" y="598.6" font-size="13.33" text-anchor="middle">125</text>
<text x="440.0" y="598.6" font-size="13.33" text-anchor="middle">150</text>
<text x="288.1" y="592.0" font-size="13.33" text-anchor="end">0</text>
<text x="288.1" y="575.3" font-size="13.33" text-anchor="end">1</text>
<text x="288.1" y="558.6" font-size="13.33" text-anchor="end">2</text>
<text x="288.1" y="541.9" font-size="13.33" text-anchor="end">3</text>
<text x="288.1" y="525.2" font-size="13.33" text-anchor="end">4</text>
<text x="288.1" y="508.5" font-size="13.33" text-anchor="end">5</text>
<text transform="translate(255.0,547.6) rotate(-90)" font-size="16.3" text-anchor="middle">Log of number</text>
<text transform="translate(274.2,544.7) rotate(-90)" font-size="16.3" text-anchor="middle">of observations</text>
<text x="372.4" y="465.6" font-size="16.3" text-anchor="middle">Distribution of</text>
<text x="374.2" y="485.0" font-size="16.3" text-anchor="middle">input locations</text>
<text x="363.8" y="621.6" font-size="16" text-anchor="middle">Dosage</text>
</g>
</svg></body></html>
